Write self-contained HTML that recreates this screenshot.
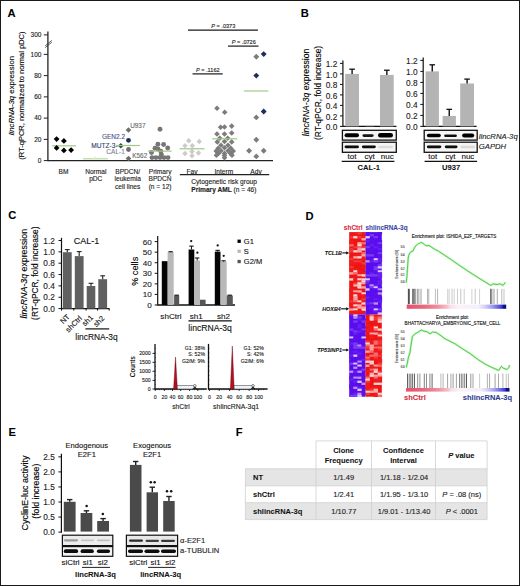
<!DOCTYPE html>
<html><head><meta charset="utf-8"><style>
html,body{margin:0;padding:0;background:#fff;}
svg{display:block;font-family:"Liberation Sans",sans-serif;}
</style></head><body>
<svg width="520" height="586" viewBox="0 0 520 586">
<defs><filter id="blur" x="-20%" y="-50%" width="140%" height="200%"><feGaussianBlur stdDeviation="0.5"/></filter></defs>
<rect width="520" height="586" fill="#fff"/>
<rect x="0.5" y="0.5" width="519" height="585" fill="none" stroke="#1a1a1a" stroke-width="1"/>
<text x="7.6" y="17.4" font-size="11.2" text-anchor="start" fill="#000" stroke="#000" stroke-width="0.06" font-weight="bold" >A</text>
<text transform="translate(14.2,95.6) rotate(-90)" font-size="7.8" text-anchor="middle" fill="#000" stroke="#000" stroke-width="0.12" ><tspan font-style="italic">lincRNA-3q</tspan> expression</text>
<text transform="translate(24.2,95.6) rotate(-90)" font-size="7.5" text-anchor="middle" fill="#000" stroke="#000" stroke-width="0.12" >(RT-qPCR, normalized to normal pDC)</text>
<line x1="47.9" y1="31.4" x2="47.9" y2="161.2" stroke="#222" stroke-width="1.3" />
<line x1="45.2" y1="45.8" x2="51.8" y2="40.4" stroke="#333" stroke-width="0.8" />
<line x1="45.2" y1="47.6" x2="51.8" y2="42.2" stroke="#333" stroke-width="0.8" />
<line x1="43.8" y1="34.9" x2="47.9" y2="34.9" stroke="#222" stroke-width="1" />
<text x="41.4" y="37.1" font-size="6.5" text-anchor="end" fill="#222" stroke="#222" stroke-width="0.12" >300</text>
<line x1="43.8" y1="54.4" x2="47.9" y2="54.4" stroke="#222" stroke-width="1" />
<text x="41.4" y="56.6" font-size="6.5" text-anchor="end" fill="#222" stroke="#222" stroke-width="0.12" >100</text>
<line x1="43.8" y1="75.64" x2="47.9" y2="75.64" stroke="#222" stroke-width="1" />
<text x="41.4" y="77.84" font-size="6.5" text-anchor="end" fill="#222" stroke="#222" stroke-width="0.12" >80</text>
<line x1="43.8" y1="96.88" x2="47.9" y2="96.88" stroke="#222" stroke-width="1" />
<text x="41.4" y="99.08" font-size="6.5" text-anchor="end" fill="#222" stroke="#222" stroke-width="0.12" >60</text>
<line x1="43.8" y1="118.12" x2="47.9" y2="118.12" stroke="#222" stroke-width="1" />
<text x="41.4" y="120.32" font-size="6.5" text-anchor="end" fill="#222" stroke="#222" stroke-width="0.12" >40</text>
<line x1="43.8" y1="139.36" x2="47.9" y2="139.36" stroke="#222" stroke-width="1" />
<text x="41.4" y="141.56" font-size="6.5" text-anchor="end" fill="#222" stroke="#222" stroke-width="0.12" >20</text>
<line x1="43.8" y1="160.6" x2="47.9" y2="160.6" stroke="#222" stroke-width="1" />
<text x="41.4" y="162.8" font-size="6.5" text-anchor="end" fill="#222" stroke="#222" stroke-width="0.12" >0</text>
<line x1="47.9" y1="160.6" x2="273" y2="160.6" stroke="#222" stroke-width="1.3" />
<line x1="52" y1="145.8" x2="76" y2="145.8" stroke="#9fca84" stroke-width="1.2" />
<polygon points="56.6,136.2 59.5,139.1 56.6,142 53.7,139.1" fill="#000"/>
<polygon points="63.9,138 66.8,140.9 63.9,143.8 61,140.9" fill="#000"/>
<polygon points="56.6,145 59.5,147.9 56.6,150.8 53.7,147.9" fill="#000"/>
<polygon points="63.9,147.5 66.8,150.4 63.9,153.3 61,150.4" fill="#000"/>
<polygon points="71.1,147.2 74,150.1 71.1,153 68.2,150.1" fill="#000"/>
<line x1="83" y1="158.8" x2="107.7" y2="158.8" stroke="#b5d99c" stroke-width="1.2" />
<polygon points="95.4,156.5 97.2,158.3 95.4,160.1 93.6,158.3" fill="#d8ecc8"/>
<polygon points="128.5,127.2 131.3,130 128.5,132.8 125.7,130" fill="#6e6e6e"/>
<circle cx="128.5" cy="140.3" r="2.4" fill="#1f2d5c" />
<polygon points="120.8,143 123.6,145.8 120.8,148.6 118,145.8" fill="#2b4a48"/>
<circle cx="128.5" cy="149.5" r="2.4" fill="#6e6e6e" />
<polygon points="128.5,155.7 131.3,158.5 128.5,161.3 125.7,158.5" fill="#6e6e6e"/>
<line x1="116" y1="145.5" x2="140" y2="145.5" stroke="#9fca84" stroke-width="1.2" />
<text x="130.2" y="127.6" font-size="6.4" text-anchor="start" fill="#6a6a6a" stroke="#6a6a6a" stroke-width="0.12" >U937</text>
<text x="125" y="139.3" font-size="6.5" text-anchor="end" fill="#46528a" stroke="#46528a" stroke-width="0.12" >GEN2.2</text>
<text x="117.6" y="147.8" font-size="6.6" text-anchor="end" fill="#36416c" stroke="#36416c" stroke-width="0.12" >MUTZ-3-</text>
<text x="124.8" y="154.1" font-size="6.5" text-anchor="end" fill="#7e8296" stroke="#7e8296" stroke-width="0.12" >CAL-1</text>
<text x="132.3" y="158.4" font-size="6.4" text-anchor="start" fill="#6a6a6a" stroke="#6a6a6a" stroke-width="0.12" >K562</text>
<circle cx="160" cy="129.2" r="2.45" fill="#767676" />
<circle cx="157.9" cy="144.2" r="2.45" fill="#767676" />
<circle cx="163.6" cy="144.5" r="2.45" fill="#767676" />
<circle cx="155" cy="148.3" r="2.45" fill="#767676" />
<circle cx="167.7" cy="148" r="2.45" fill="#767676" />
<circle cx="151.5" cy="152.5" r="2.45" fill="#767676" />
<circle cx="160.8" cy="151.2" r="2.45" fill="#767676" />
<circle cx="161.3" cy="154.5" r="2.45" fill="#767676" />
<circle cx="152" cy="157.6" r="2.45" fill="#767676" />
<circle cx="156" cy="157.6" r="2.45" fill="#767676" />
<circle cx="160" cy="157.6" r="2.45" fill="#767676" />
<circle cx="164" cy="157.6" r="2.45" fill="#767676" />
<circle cx="168" cy="157.6" r="2.45" fill="#767676" />
<circle cx="158" cy="149" r="2.45" fill="#767676" />
<line x1="148" y1="151.1" x2="171.7" y2="151.1" stroke="#9fca84" stroke-width="1.2" />
<polygon points="188.7,138.1 191.4,140.8 188.7,143.5 186,140.8" fill="#cbcbcb"/>
<polygon points="199.2,138.8 201.9,141.5 199.2,144.2 196.5,141.5" fill="#cbcbcb"/>
<polygon points="185,143.1 187.7,145.8 185,148.5 182.3,145.8" fill="#cbcbcb"/>
<polygon points="192.3,143.1 195,145.8 192.3,148.5 189.6,145.8" fill="#cbcbcb"/>
<polygon points="185,150.8 187.7,153.5 185,156.2 182.3,153.5" fill="#cbcbcb"/>
<polygon points="192,148.8 194.7,151.5 192,154.2 189.3,151.5" fill="#cbcbcb"/>
<polygon points="198.5,150.3 201.2,153 198.5,155.7 195.8,153" fill="#cbcbcb"/>
<polygon points="192,153.1 194.7,155.8 192,158.5 189.3,155.8" fill="#cbcbcb"/>
<line x1="179.6" y1="148.8" x2="204.6" y2="148.8" stroke="#9fca84" stroke-width="1.2" />
<polygon points="217,105.5 219.8,108.3 217,111.1 214.2,108.3" fill="#7c7c7c"/>
<polygon points="224.7,109.4 227.5,112.2 224.7,115 221.9,112.2" fill="#7c7c7c"/>
<polygon points="220.6,124.4 223.4,127.2 220.6,130 217.8,127.2" fill="#7c7c7c"/>
<polygon points="224.5,124.2 227.3,127 224.5,129.8 221.7,127" fill="#7c7c7c"/>
<polygon points="231.7,123.3 234.5,126.1 231.7,128.9 228.9,126.1" fill="#7c7c7c"/>
<polygon points="217,131.2 219.8,134 217,136.8 214.2,134" fill="#7c7c7c"/>
<polygon points="224.5,131.2 227.3,134 224.5,136.8 221.7,134" fill="#7c7c7c"/>
<polygon points="231.7,130.2 234.5,133 231.7,135.8 228.9,133" fill="#7c7c7c"/>
<polygon points="219.8,135.5 222.6,138.3 219.8,141.1 217,138.3" fill="#7c7c7c"/>
<polygon points="227.7,135.5 230.5,138.3 227.7,141.1 224.9,138.3" fill="#7c7c7c"/>
<polygon points="217.3,139.1 220.1,141.9 217.3,144.7 214.5,141.9" fill="#7c7c7c"/>
<polygon points="224.5,138.7 227.3,141.5 224.5,144.3 221.7,141.5" fill="#7c7c7c"/>
<polygon points="231.7,139.1 234.5,141.9 231.7,144.7 228.9,141.9" fill="#7c7c7c"/>
<polygon points="221,142.4 223.8,145.2 221,148 218.2,145.2" fill="#7c7c7c"/>
<polygon points="228,142.4 230.8,145.2 228,148 225.2,145.2" fill="#7c7c7c"/>
<polygon points="218.2,145.4 221,148.2 218.2,151 215.4,148.2" fill="#7c7c7c"/>
<polygon points="224.5,145 227.3,147.8 224.5,150.6 221.7,147.8" fill="#7c7c7c"/>
<polygon points="230.8,145.4 233.6,148.2 230.8,151 228,148.2" fill="#7c7c7c"/>
<polygon points="216.2,148.3 219,151.1 216.2,153.9 213.4,151.1" fill="#7c7c7c"/>
<polygon points="221,148 223.8,150.8 221,153.6 218.2,150.8" fill="#7c7c7c"/>
<polygon points="228,148 230.8,150.8 228,153.6 225.2,150.8" fill="#7c7c7c"/>
<polygon points="233.2,148.3 236,151.1 233.2,153.9 230.4,151.1" fill="#7c7c7c"/>
<polygon points="218.5,150.6 221.3,153.4 218.5,156.2 215.7,153.4" fill="#7c7c7c"/>
<polygon points="224.5,150.6 227.3,153.4 224.5,156.2 221.7,153.4" fill="#7c7c7c"/>
<polygon points="230.5,150.6 233.3,153.4 230.5,156.2 227.7,153.4" fill="#7c7c7c"/>
<polygon points="216.4,152.4 219.2,155.2 216.4,158 213.6,155.2" fill="#7c7c7c"/>
<polygon points="224.5,152.6 227.3,155.4 224.5,158.2 221.7,155.4" fill="#7c7c7c"/>
<polygon points="232,152.4 234.8,155.2 232,158 229.2,155.2" fill="#7c7c7c"/>
<polygon points="224.5,155 227.3,157.8 224.5,160.6 221.7,157.8" fill="#7c7c7c"/>
<line x1="212.2" y1="138.8" x2="237.2" y2="138.8" stroke="#9fca84" stroke-width="1.2" />
<polygon points="256.3,53.75 259.25,56.7 256.3,59.65 253.35,56.7" fill="#7c7c7c"/>
<polygon points="263.7,51.15 266.65,54.1 263.7,57.05 260.75,54.1" fill="#1f2d5c"/>
<polygon points="256.3,72.65 259.25,75.6 256.3,78.55 253.35,75.6" fill="#1f2d5c"/>
<polygon points="263.7,108.55 266.65,111.5 263.7,114.45 260.75,111.5" fill="#1f2d5c"/>
<polygon points="256.3,114.45 259.25,117.4 256.3,120.35 253.35,117.4" fill="#7c7c7c"/>
<polygon points="256.3,136.75 259.25,139.7 256.3,142.65 253.35,139.7" fill="#7c7c7c"/>
<polygon points="249.1,147.85 252.05,150.8 249.1,153.75 246.15,150.8" fill="#7c7c7c"/>
<polygon points="263.7,147.85 266.65,150.8 263.7,153.75 260.75,150.8" fill="#7c7c7c"/>
<polygon points="256.3,153.45 259.25,156.4 256.3,159.35 253.35,156.4" fill="#7c7c7c"/>
<line x1="244" y1="91" x2="268.3" y2="91" stroke="#9fca84" stroke-width="1.2" />
<line x1="188" y1="30.2" x2="257.9" y2="30.2" stroke="#1a1a1a" stroke-width="1.2" />
<text x="223.3" y="28.1" font-size="5.6" text-anchor="middle" fill="#222" stroke="#222" stroke-width="0.12" ><tspan font-style="italic">P</tspan> = .0373</text>
<line x1="228" y1="46.1" x2="258.5" y2="46.1" stroke="#1a1a1a" stroke-width="1.2" />
<text x="243.8" y="44" font-size="5.6" text-anchor="middle" fill="#222" stroke="#222" stroke-width="0.12" ><tspan font-style="italic">P</tspan> = .0726</text>
<line x1="192.5" y1="73.9" x2="222.7" y2="73.9" stroke="#1a1a1a" stroke-width="1.2" />
<text x="207.8" y="72" font-size="5.6" text-anchor="middle" fill="#222" stroke="#222" stroke-width="0.12" ><tspan font-style="italic">P</tspan> = .1162</text>
<text x="63.5" y="173.8" font-size="6.6" text-anchor="middle" fill="#222" stroke="#222" stroke-width="0.12" >BM</text>
<text x="95.8" y="173.8" font-size="6.6" text-anchor="middle" fill="#222" stroke="#222" stroke-width="0.12" >Normal</text>
<text x="95.8" y="181.4" font-size="6.6" text-anchor="middle" fill="#222" stroke="#222" stroke-width="0.12" >pDC</text>
<text x="127.7" y="173.8" font-size="6.6" text-anchor="middle" fill="#222" stroke="#222" stroke-width="0.12" >BPDCN/</text>
<text x="127.7" y="181.4" font-size="6.6" text-anchor="middle" fill="#222" stroke="#222" stroke-width="0.12" >leukemia</text>
<text x="127.7" y="189" font-size="6.6" text-anchor="middle" fill="#222" stroke="#222" stroke-width="0.12" >cell lines</text>
<text x="160.1" y="173.8" font-size="6.6" text-anchor="middle" fill="#222" stroke="#222" stroke-width="0.12" >Primary</text>
<text x="160.1" y="181.4" font-size="6.6" text-anchor="middle" fill="#222" stroke="#222" stroke-width="0.12" >BPDCN</text>
<text x="160.1" y="189" font-size="6.6" text-anchor="middle" fill="#222" stroke="#222" stroke-width="0.12" >(n = 12)</text>
<text x="192" y="173.5" font-size="6.6" text-anchor="middle" fill="#222" stroke="#222" stroke-width="0.12" >Fav</text>
<text x="223.8" y="173.5" font-size="6.6" text-anchor="middle" fill="#222" stroke="#222" stroke-width="0.12" >Interm</text>
<text x="256" y="173.5" font-size="6.6" text-anchor="middle" fill="#222" stroke="#222" stroke-width="0.12" >Adv</text>
<line x1="179.8" y1="174.6" x2="269.2" y2="174.6" stroke="#222" stroke-width="1.2" />
<text x="191.3" y="184" font-size="6.6" text-anchor="start" fill="#222" stroke="#222" stroke-width="0.12" >Cytogenetic risk group</text>
<text x="191.3" y="191.7" font-size="6.6" text-anchor="start" fill="#222" stroke="#222" stroke-width="0.12" ><tspan font-weight="bold">Primary AML</tspan> (n = 46)</text>
<text x="300.8" y="17.2" font-size="11.2" text-anchor="start" fill="#000" stroke="#000" stroke-width="0.06" font-weight="bold" >B</text>
<text transform="translate(309.4,92.5) rotate(-90)" font-size="8.6" text-anchor="middle" fill="#000" stroke="#000" stroke-width="0.12" ><tspan font-style="italic">lincRNA-3q</tspan> expression</text>
<text transform="translate(320.8,92.9) rotate(-90)" font-size="8.45" text-anchor="middle" fill="#000" stroke="#000" stroke-width="0.12" >(RT-qPCR, fold increase)</text>
<line x1="342.9" y1="60.4" x2="342.9" y2="127" stroke="#111" stroke-width="1.2" />
<line x1="340" y1="126.4" x2="342.9" y2="126.4" stroke="#111" stroke-width="1" />
<text x="337.3" y="130" font-size="8.3" text-anchor="end" fill="#222" stroke="#222" stroke-width="0.12" >0.0</text>
<line x1="340" y1="115.9" x2="342.9" y2="115.9" stroke="#111" stroke-width="1" />
<text x="337.3" y="119.5" font-size="8.3" text-anchor="end" fill="#222" stroke="#222" stroke-width="0.12" >0.2</text>
<line x1="340" y1="105.4" x2="342.9" y2="105.4" stroke="#111" stroke-width="1" />
<text x="337.3" y="109" font-size="8.3" text-anchor="end" fill="#222" stroke="#222" stroke-width="0.12" >0.4</text>
<line x1="340" y1="94.9" x2="342.9" y2="94.9" stroke="#111" stroke-width="1" />
<text x="337.3" y="98.5" font-size="8.3" text-anchor="end" fill="#222" stroke="#222" stroke-width="0.12" >0.6</text>
<line x1="340" y1="84.4" x2="342.9" y2="84.4" stroke="#111" stroke-width="1" />
<text x="337.3" y="88" font-size="8.3" text-anchor="end" fill="#222" stroke="#222" stroke-width="0.12" >0.8</text>
<line x1="340" y1="73.9" x2="342.9" y2="73.9" stroke="#111" stroke-width="1" />
<text x="337.3" y="77.5" font-size="8.3" text-anchor="end" fill="#222" stroke="#222" stroke-width="0.12" >1.0</text>
<line x1="340" y1="63.4" x2="342.9" y2="63.4" stroke="#111" stroke-width="1" />
<text x="337.3" y="67" font-size="8.3" text-anchor="end" fill="#222" stroke="#222" stroke-width="0.12" >1.2</text>
<line x1="342.9" y1="126.4" x2="396.4" y2="126.4" stroke="#111" stroke-width="1.3" />
<rect x="345.2" y="73.9" width="13.8" height="52.5" fill="#b4b4b4" />
<line x1="352.1" y1="73.9" x2="352.1" y2="69.18" stroke="#111" stroke-width="1.4" />
<line x1="349.3" y1="69.18" x2="354.9" y2="69.18" stroke="#111" stroke-width="1.3" />
<rect x="365.7" y="126.14" width="8.2" height="0.26" fill="#b4b4b4" />
<rect x="380" y="74.95" width="13.7" height="51.45" fill="#b4b4b4" />
<line x1="386.85" y1="74.95" x2="386.85" y2="70.23" stroke="#111" stroke-width="1.4" />
<line x1="384.05" y1="70.23" x2="389.65" y2="70.23" stroke="#111" stroke-width="1.3" />
<line x1="423.2" y1="57.4" x2="423.2" y2="127" stroke="#111" stroke-width="1.2" />
<line x1="420.3" y1="126.4" x2="423.2" y2="126.4" stroke="#111" stroke-width="1" />
<text x="417.6" y="130" font-size="8.3" text-anchor="end" fill="#222" stroke="#222" stroke-width="0.12" >0.0</text>
<line x1="420.3" y1="115.4" x2="423.2" y2="115.4" stroke="#111" stroke-width="1" />
<text x="417.6" y="119" font-size="8.3" text-anchor="end" fill="#222" stroke="#222" stroke-width="0.12" >0.2</text>
<line x1="420.3" y1="104.4" x2="423.2" y2="104.4" stroke="#111" stroke-width="1" />
<text x="417.6" y="108" font-size="8.3" text-anchor="end" fill="#222" stroke="#222" stroke-width="0.12" >0.4</text>
<line x1="420.3" y1="93.4" x2="423.2" y2="93.4" stroke="#111" stroke-width="1" />
<text x="417.6" y="97" font-size="8.3" text-anchor="end" fill="#222" stroke="#222" stroke-width="0.12" >0.6</text>
<line x1="420.3" y1="82.4" x2="423.2" y2="82.4" stroke="#111" stroke-width="1" />
<text x="417.6" y="86" font-size="8.3" text-anchor="end" fill="#222" stroke="#222" stroke-width="0.12" >0.8</text>
<line x1="420.3" y1="71.4" x2="423.2" y2="71.4" stroke="#111" stroke-width="1" />
<text x="417.6" y="75" font-size="8.3" text-anchor="end" fill="#222" stroke="#222" stroke-width="0.12" >1.0</text>
<line x1="420.3" y1="60.4" x2="423.2" y2="60.4" stroke="#111" stroke-width="1" />
<text x="417.6" y="64" font-size="8.3" text-anchor="end" fill="#222" stroke="#222" stroke-width="0.12" >1.2</text>
<line x1="423.2" y1="126.4" x2="476.6" y2="126.4" stroke="#111" stroke-width="1.3" />
<rect x="425.6" y="71.4" width="13.3" height="55" fill="#b4b4b4" />
<line x1="432.25" y1="71.4" x2="432.25" y2="64.8" stroke="#111" stroke-width="1.4" />
<line x1="429.45" y1="64.8" x2="435.05" y2="64.8" stroke="#111" stroke-width="1.3" />
<rect x="442.6" y="115.95" width="13.3" height="10.45" fill="#b4b4b4" />
<line x1="449.25" y1="115.95" x2="449.25" y2="109.35" stroke="#111" stroke-width="1.4" />
<line x1="446.45" y1="109.35" x2="452.05" y2="109.35" stroke="#111" stroke-width="1.3" />
<rect x="460.2" y="83.5" width="13.8" height="42.9" fill="#b4b4b4" />
<line x1="467.1" y1="83.5" x2="467.1" y2="79.1" stroke="#111" stroke-width="1.4" />
<line x1="464.3" y1="79.1" x2="469.9" y2="79.1" stroke="#111" stroke-width="1.3" />
<rect x="342.4" y="130.3" width="53.9" height="9.8" fill="#f5f5f5" stroke="#111" stroke-width="1.3"/>
<rect x="344.6" y="133.25" width="14.4" height="3.9" rx="1.95" fill="#050505" filter="url(#blur)"/>
<rect x="362.5" y="134.2" width="11.1" height="2.8" rx="1.4" fill="#151515" filter="url(#blur)"/>
<rect x="378" y="133" width="15" height="4.6" rx="2.3" fill="#050505" filter="url(#blur)"/>
<rect x="342.4" y="142.2" width="53.9" height="10.1" fill="#f5f5f5" stroke="#111" stroke-width="1.3"/>
<rect x="344.6" y="145.4" width="14.4" height="2.8" rx="1.4" fill="#080808" filter="url(#blur)"/>
<rect x="361.9" y="145.4" width="13.9" height="2.8" rx="1.4" fill="#080808" filter="url(#blur)"/>
<rect x="378" y="145.7" width="15" height="2.6" rx="1.3" fill="#dcdcdc" filter="url(#blur)"/>
<rect x="424.2" y="130.3" width="53" height="9.8" fill="#f5f5f5" stroke="#111" stroke-width="1.3"/>
<rect x="426.9" y="133.65" width="13.9" height="3.5" rx="1.75" fill="#050505" filter="url(#blur)"/>
<rect x="444.2" y="134.4" width="12.7" height="2.6" rx="1.3" fill="#101010" filter="url(#blur)"/>
<rect x="462.1" y="133.5" width="12.1" height="4" rx="2" fill="#050505" filter="url(#blur)"/>
<rect x="424.2" y="142.2" width="53" height="10.1" fill="#f5f5f5" stroke="#111" stroke-width="1.3"/>
<rect x="426.9" y="145.45" width="14.4" height="2.7" rx="1.35" fill="#080808" filter="url(#blur)"/>
<rect x="444.8" y="145.45" width="12.7" height="2.7" rx="1.35" fill="#080808" filter="url(#blur)"/>
<rect x="460.5" y="145.7" width="14.5" height="2.6" rx="1.3" fill="#dadada" filter="url(#blur)"/>
<text x="352" y="158.9" font-size="8" text-anchor="middle" fill="#111" stroke="#111" stroke-width="0.12" >tot</text>
<text x="369.7" y="158.9" font-size="8" text-anchor="middle" fill="#111" stroke="#111" stroke-width="0.12" >cyt</text>
<text x="387.3" y="158.9" font-size="8" text-anchor="middle" fill="#111" stroke="#111" stroke-width="0.12" >nuc</text>
<text x="432.7" y="158.9" font-size="8" text-anchor="middle" fill="#111" stroke="#111" stroke-width="0.12" >tot</text>
<text x="450.3" y="158.9" font-size="8" text-anchor="middle" fill="#111" stroke="#111" stroke-width="0.12" >cyt</text>
<text x="467.9" y="158.9" font-size="8" text-anchor="middle" fill="#111" stroke="#111" stroke-width="0.12" >nuc</text>
<line x1="341.7" y1="161.4" x2="394.4" y2="161.4" stroke="#111" stroke-width="1.2" />
<line x1="424.6" y1="161.4" x2="477.1" y2="161.4" stroke="#111" stroke-width="1.2" />
<text x="368.8" y="170.4" font-size="7.6" text-anchor="middle" fill="#111" stroke="#111" stroke-width="0.06" font-weight="bold" >CAL-1</text>
<text x="451.2" y="170.4" font-size="7.6" text-anchor="middle" fill="#111" stroke="#111" stroke-width="0.06" font-weight="bold" >U937</text>
<text x="478.8" y="138.5" font-size="7.7" text-anchor="start" fill="#222" stroke="#222" stroke-width="0.12" font-style="italic" >lincRNA-3q</text>
<text x="478.8" y="148.8" font-size="7.7" text-anchor="start" fill="#222" stroke="#222" stroke-width="0.12" font-style="italic" >GAPDH</text>
<text x="8.3" y="219.4" font-size="11.2" text-anchor="start" fill="#000" stroke="#000" stroke-width="0.06" font-weight="bold" >C</text>
<text transform="translate(26.9,273.7) rotate(-90)" font-size="8.8" text-anchor="middle" fill="#000" stroke="#000" stroke-width="0.12" ><tspan font-style="italic">lincRNA-3q</tspan> expression</text>
<text transform="translate(37.9,273.2) rotate(-90)" font-size="8.4" text-anchor="middle" fill="#000" stroke="#000" stroke-width="0.12" >(RT-qPCR, fold increase)</text>
<line x1="61.5" y1="237.8" x2="61.5" y2="309.2" stroke="#111" stroke-width="1.2" />
<line x1="58.5" y1="308.6" x2="61.5" y2="308.6" stroke="#111" stroke-width="1" />
<text x="54.9" y="311.7" font-size="8.3" text-anchor="end" fill="#222" stroke="#222" stroke-width="0.12" >0.0</text>
<line x1="58.5" y1="297.25" x2="61.5" y2="297.25" stroke="#111" stroke-width="1" />
<text x="54.9" y="300.35" font-size="8.3" text-anchor="end" fill="#222" stroke="#222" stroke-width="0.12" >0.2</text>
<line x1="58.5" y1="285.9" x2="61.5" y2="285.9" stroke="#111" stroke-width="1" />
<text x="54.9" y="289" font-size="8.3" text-anchor="end" fill="#222" stroke="#222" stroke-width="0.12" >0.4</text>
<line x1="58.5" y1="274.55" x2="61.5" y2="274.55" stroke="#111" stroke-width="1" />
<text x="54.9" y="277.65" font-size="8.3" text-anchor="end" fill="#222" stroke="#222" stroke-width="0.12" >0.6</text>
<line x1="58.5" y1="263.2" x2="61.5" y2="263.2" stroke="#111" stroke-width="1" />
<text x="54.9" y="266.3" font-size="8.3" text-anchor="end" fill="#222" stroke="#222" stroke-width="0.12" >0.8</text>
<line x1="58.5" y1="251.85" x2="61.5" y2="251.85" stroke="#111" stroke-width="1" />
<text x="54.9" y="254.95" font-size="8.3" text-anchor="end" fill="#222" stroke="#222" stroke-width="0.12" >1.0</text>
<line x1="58.5" y1="240.5" x2="61.5" y2="240.5" stroke="#111" stroke-width="1" />
<text x="54.9" y="243.6" font-size="8.3" text-anchor="end" fill="#222" stroke="#222" stroke-width="0.12" >1.2</text>
<line x1="61.5" y1="308.6" x2="109.5" y2="308.6" stroke="#111" stroke-width="1.3" />
<line x1="61.5" y1="308.6" x2="61.5" y2="310.6" stroke="#111" stroke-width="1" />
<line x1="73.8" y1="308.6" x2="73.8" y2="310.6" stroke="#111" stroke-width="1" />
<line x1="86.1" y1="308.6" x2="86.1" y2="310.6" stroke="#111" stroke-width="1" />
<line x1="97.6" y1="308.6" x2="97.6" y2="310.6" stroke="#111" stroke-width="1" />
<line x1="109.2" y1="308.6" x2="109.2" y2="310.6" stroke="#111" stroke-width="1" />
<rect x="62.9" y="252.2" width="8.8" height="56.4" fill="#606060" />
<line x1="67.3" y1="252.2" x2="67.3" y2="249.6" stroke="#222" stroke-width="1.1" />
<line x1="64.9" y1="249.6" x2="69.7" y2="249.6" stroke="#222" stroke-width="1.1" />
<rect x="74.8" y="256.1" width="8.8" height="52.5" fill="#606060" />
<line x1="79.2" y1="256.1" x2="79.2" y2="251.6" stroke="#222" stroke-width="1.1" />
<line x1="76.8" y1="251.6" x2="81.6" y2="251.6" stroke="#222" stroke-width="1.1" />
<rect x="86.7" y="286" width="8.6" height="22.6" fill="#606060" />
<line x1="91" y1="286" x2="91" y2="283.3" stroke="#222" stroke-width="1.1" />
<line x1="88.6" y1="283.3" x2="93.4" y2="283.3" stroke="#222" stroke-width="1.1" />
<rect x="98.3" y="279.2" width="8.8" height="29.4" fill="#606060" />
<line x1="102.7" y1="279.2" x2="102.7" y2="275.8" stroke="#222" stroke-width="1.1" />
<line x1="100.3" y1="275.8" x2="105.1" y2="275.8" stroke="#222" stroke-width="1.1" />
<text x="86.6" y="244.2" font-size="9" text-anchor="middle" fill="#111" stroke="#111" stroke-width="0.12" >CAL-1</text>
<text transform="translate(70.2,317.2) rotate(-45)" font-size="7.5" text-anchor="end" fill="#111" stroke="#111" stroke-width="0.12">NT</text>
<text transform="translate(82.4,318.8) rotate(-45)" font-size="7.5" text-anchor="end" fill="#111" stroke="#111" stroke-width="0.12">shCtrl</text>
<text transform="translate(93.6,318.0) rotate(-45)" font-size="7.5" text-anchor="end" fill="#111" stroke="#111" stroke-width="0.12">sh1</text>
<text transform="translate(105.0,318.8) rotate(-45)" font-size="7.5" text-anchor="end" fill="#111" stroke="#111" stroke-width="0.12">sh2</text>
<line x1="85.4" y1="328.9" x2="109.2" y2="328.9" stroke="#111" stroke-width="1.2" />
<text x="96.5" y="339.7" font-size="8.4" text-anchor="middle" fill="#111" stroke="#111" stroke-width="0.12" >lincRNA-3q</text>
<text transform="translate(137.5,271.3) rotate(-90)" font-size="9.2" text-anchor="middle" fill="#000" stroke="#000" stroke-width="0.12" >% cells</text>
<line x1="157.7" y1="236.1" x2="157.7" y2="305.6" stroke="#111" stroke-width="1.2" />
<line x1="154.7" y1="305" x2="157.7" y2="305" stroke="#111" stroke-width="1" />
<text x="151.8" y="308" font-size="8.1" text-anchor="end" fill="#222" stroke="#222" stroke-width="0.12" >0</text>
<line x1="154.7" y1="294.43" x2="157.7" y2="294.43" stroke="#111" stroke-width="1" />
<text x="151.8" y="297.43" font-size="8.1" text-anchor="end" fill="#222" stroke="#222" stroke-width="0.12" >10</text>
<line x1="154.7" y1="283.87" x2="157.7" y2="283.87" stroke="#111" stroke-width="1" />
<text x="151.8" y="286.87" font-size="8.1" text-anchor="end" fill="#222" stroke="#222" stroke-width="0.12" >20</text>
<line x1="154.7" y1="273.3" x2="157.7" y2="273.3" stroke="#111" stroke-width="1" />
<text x="151.8" y="276.3" font-size="8.1" text-anchor="end" fill="#222" stroke="#222" stroke-width="0.12" >30</text>
<line x1="154.7" y1="262.73" x2="157.7" y2="262.73" stroke="#111" stroke-width="1" />
<text x="151.8" y="265.73" font-size="8.1" text-anchor="end" fill="#222" stroke="#222" stroke-width="0.12" >40</text>
<line x1="154.7" y1="252.16" x2="157.7" y2="252.16" stroke="#111" stroke-width="1" />
<text x="151.8" y="255.16" font-size="8.1" text-anchor="end" fill="#222" stroke="#222" stroke-width="0.12" >50</text>
<line x1="154.7" y1="241.6" x2="157.7" y2="241.6" stroke="#111" stroke-width="1" />
<text x="151.8" y="244.6" font-size="8.1" text-anchor="end" fill="#222" stroke="#222" stroke-width="0.12" >60</text>
<line x1="157.7" y1="305" x2="235" y2="305" stroke="#111" stroke-width="1.3" />
<rect x="161.8" y="261.15" width="5.9" height="43.85" fill="#050505" />
<rect x="167.6" y="252.16" width="6.1" height="52.84" fill="#b9b9b9" />
<line x1="170.65" y1="252.16" x2="170.65" y2="251.74" stroke="#111" stroke-width="1" />
<line x1="168.45" y1="251.74" x2="172.85" y2="251.74" stroke="#111" stroke-width="1.1" />
<rect x="174.1" y="295.49" width="5.1" height="9.51" fill="#575757" />
<line x1="176.65" y1="295.49" x2="176.65" y2="295.17" stroke="#111" stroke-width="1" />
<line x1="174.45" y1="295.17" x2="178.85" y2="295.17" stroke="#111" stroke-width="1.1" />
<rect x="188.6" y="249.52" width="5.7" height="55.48" fill="#050505" />
<line x1="191.45" y1="249.52" x2="191.45" y2="246.14" stroke="#111" stroke-width="1" />
<line x1="189.25" y1="246.14" x2="193.65" y2="246.14" stroke="#111" stroke-width="1.1" />
<rect x="194.3" y="260.62" width="5.7" height="44.38" fill="#b9b9b9" />
<line x1="197.15" y1="260.62" x2="197.15" y2="257.98" stroke="#111" stroke-width="1" />
<line x1="194.95" y1="257.98" x2="199.35" y2="257.98" stroke="#111" stroke-width="1.1" />
<rect x="200" y="299.72" width="5.6" height="5.28" fill="#575757" />
<rect x="214.8" y="251.64" width="5.7" height="53.36" fill="#050505" />
<line x1="217.65" y1="251.64" x2="217.65" y2="250.37" stroke="#111" stroke-width="1" />
<line x1="215.45" y1="250.37" x2="219.85" y2="250.37" stroke="#111" stroke-width="1.1" />
<rect x="220.5" y="261.68" width="6.2" height="43.32" fill="#b9b9b9" />
<line x1="223.6" y1="261.68" x2="223.6" y2="260.83" stroke="#111" stroke-width="1" />
<line x1="221.4" y1="260.83" x2="225.8" y2="260.83" stroke="#111" stroke-width="1.1" />
<rect x="226.7" y="295.49" width="6.1" height="9.51" fill="#575757" />
<line x1="229.75" y1="295.49" x2="229.75" y2="295.17" stroke="#111" stroke-width="1" />
<line x1="227.55" y1="295.17" x2="231.95" y2="295.17" stroke="#111" stroke-width="1.1" />
<circle cx="191.2" cy="241.1" r="1.15" fill="#111" />
<circle cx="197.4" cy="252.7" r="1.15" fill="#111" />
<circle cx="217.7" cy="245.4" r="1.15" fill="#111" />
<circle cx="223.7" cy="255.8" r="1.15" fill="#111" />
<text x="170.9" y="318.8" font-size="8.1" text-anchor="middle" fill="#111" stroke="#111" stroke-width="0.12" >shCtrl</text>
<text x="196.2" y="318.8" font-size="8.1" text-anchor="middle" fill="#111" stroke="#111" stroke-width="0.12" >sh1</text>
<text x="223.6" y="318.8" font-size="8.1" text-anchor="middle" fill="#111" stroke="#111" stroke-width="0.12" >sh2</text>
<line x1="188.5" y1="320.8" x2="231.8" y2="320.8" stroke="#111" stroke-width="1.2" />
<text x="210.1" y="331" font-size="8.6" text-anchor="middle" fill="#111" stroke="#111" stroke-width="0.12" >lincRNA-3q</text>
<rect x="237.5" y="239.6" width="3.3" height="3.3" fill="#000" />
<text x="243.8" y="243.8" font-size="7.5" text-anchor="start" fill="#111" stroke="#111" stroke-width="0.12" >G1</text>
<rect x="237.5" y="249.6" width="3.3" height="3.3" fill="#b9b9b9" />
<text x="243.8" y="253.8" font-size="7.5" text-anchor="start" fill="#111" stroke="#111" stroke-width="0.12" >S</text>
<rect x="237.5" y="259.9" width="3.3" height="3.3" fill="#555" />
<text x="243.8" y="264.1" font-size="7.5" text-anchor="start" fill="#111" stroke="#111" stroke-width="0.12" >G2/M</text>
<line x1="155" y1="343.9" x2="155" y2="389.6" stroke="#111" stroke-width="1.3" />
<line x1="152.5" y1="353.4" x2="155" y2="353.4" stroke="#111" stroke-width="0.9" />
<text x="150.7" y="355.3" font-size="5.2" text-anchor="end" fill="#222" stroke="#222" stroke-width="0.12" >2000</text>
<line x1="152.5" y1="362.3" x2="155" y2="362.3" stroke="#111" stroke-width="0.9" />
<text x="150.7" y="364.2" font-size="5.2" text-anchor="end" fill="#222" stroke="#222" stroke-width="0.12" >1500</text>
<line x1="152.5" y1="371.3" x2="155" y2="371.3" stroke="#111" stroke-width="0.9" />
<text x="150.7" y="373.2" font-size="5.2" text-anchor="end" fill="#222" stroke="#222" stroke-width="0.12" >1000</text>
<line x1="152.5" y1="380.4" x2="155" y2="380.4" stroke="#111" stroke-width="0.9" />
<text x="150.7" y="382.3" font-size="5.2" text-anchor="end" fill="#222" stroke="#222" stroke-width="0.12" >500</text>
<line x1="152.5" y1="389" x2="155" y2="389" stroke="#111" stroke-width="0.9" />
<text x="150.7" y="390.9" font-size="5.2" text-anchor="end" fill="#222" stroke="#222" stroke-width="0.12" >0</text>
<line x1="155" y1="384.5" x2="156" y2="384.5" stroke="#111" stroke-width="0.5" />
<line x1="155" y1="380" x2="156" y2="380" stroke="#111" stroke-width="0.5" />
<line x1="155" y1="375.5" x2="156" y2="375.5" stroke="#111" stroke-width="0.5" />
<line x1="155" y1="371" x2="156" y2="371" stroke="#111" stroke-width="0.5" />
<line x1="155" y1="366.5" x2="156" y2="366.5" stroke="#111" stroke-width="0.5" />
<line x1="155" y1="362" x2="156" y2="362" stroke="#111" stroke-width="0.5" />
<line x1="155" y1="357.5" x2="156" y2="357.5" stroke="#111" stroke-width="0.5" />
<line x1="155" y1="353" x2="156" y2="353" stroke="#111" stroke-width="0.5" />
<line x1="155" y1="348.5" x2="156" y2="348.5" stroke="#111" stroke-width="0.5" />
<line x1="155" y1="389" x2="206.8" y2="389" stroke="#111" stroke-width="1.3" />
<line x1="155.3" y1="389" x2="155.3" y2="391" stroke="#111" stroke-width="0.8" />
<text x="155.3" y="399" font-size="5.2" text-anchor="middle" fill="#222" stroke="#222" stroke-width="0.12" >0</text>
<line x1="164.4" y1="389" x2="164.4" y2="391" stroke="#111" stroke-width="0.8" />
<text x="164.4" y="399" font-size="5.2" text-anchor="middle" fill="#222" stroke="#222" stroke-width="0.12" >20</text>
<line x1="172.5" y1="389" x2="172.5" y2="391" stroke="#111" stroke-width="0.8" />
<text x="172.5" y="399" font-size="5.2" text-anchor="middle" fill="#222" stroke="#222" stroke-width="0.12" >40</text>
<line x1="180.6" y1="389" x2="180.6" y2="391" stroke="#111" stroke-width="0.8" />
<text x="180.6" y="399" font-size="5.2" text-anchor="middle" fill="#222" stroke="#222" stroke-width="0.12" >60</text>
<line x1="189.5" y1="389" x2="189.5" y2="391" stroke="#111" stroke-width="0.8" />
<text x="189.5" y="399" font-size="5.2" text-anchor="middle" fill="#222" stroke="#222" stroke-width="0.12" >80</text>
<line x1="197.8" y1="389" x2="197.8" y2="391" stroke="#111" stroke-width="0.8" />
<text x="197.8" y="399" font-size="5.2" text-anchor="middle" fill="#222" stroke="#222" stroke-width="0.12" >100</text>
<line x1="155" y1="389" x2="155" y2="390.2" stroke="#111" stroke-width="0.5" />
<line x1="157.2" y1="389" x2="157.2" y2="390.2" stroke="#111" stroke-width="0.5" />
<line x1="159.4" y1="389" x2="159.4" y2="390.2" stroke="#111" stroke-width="0.5" />
<line x1="161.6" y1="389" x2="161.6" y2="390.2" stroke="#111" stroke-width="0.5" />
<line x1="163.8" y1="389" x2="163.8" y2="390.2" stroke="#111" stroke-width="0.5" />
<line x1="166" y1="389" x2="166" y2="390.2" stroke="#111" stroke-width="0.5" />
<line x1="168.2" y1="389" x2="168.2" y2="390.2" stroke="#111" stroke-width="0.5" />
<line x1="170.4" y1="389" x2="170.4" y2="390.2" stroke="#111" stroke-width="0.5" />
<line x1="172.6" y1="389" x2="172.6" y2="390.2" stroke="#111" stroke-width="0.5" />
<line x1="174.8" y1="389" x2="174.8" y2="390.2" stroke="#111" stroke-width="0.5" />
<line x1="177" y1="389" x2="177" y2="390.2" stroke="#111" stroke-width="0.5" />
<line x1="179.2" y1="389" x2="179.2" y2="390.2" stroke="#111" stroke-width="0.5" />
<line x1="181.4" y1="389" x2="181.4" y2="390.2" stroke="#111" stroke-width="0.5" />
<line x1="183.6" y1="389" x2="183.6" y2="390.2" stroke="#111" stroke-width="0.5" />
<line x1="185.8" y1="389" x2="185.8" y2="390.2" stroke="#111" stroke-width="0.5" />
<line x1="188" y1="389" x2="188" y2="390.2" stroke="#111" stroke-width="0.5" />
<line x1="190.2" y1="389" x2="190.2" y2="390.2" stroke="#111" stroke-width="0.5" />
<line x1="192.4" y1="389" x2="192.4" y2="390.2" stroke="#111" stroke-width="0.5" />
<line x1="194.6" y1="389" x2="194.6" y2="390.2" stroke="#111" stroke-width="0.5" />
<line x1="196.8" y1="389" x2="196.8" y2="390.2" stroke="#111" stroke-width="0.5" />
<line x1="199" y1="389" x2="199" y2="390.2" stroke="#111" stroke-width="0.5" />
<line x1="201.2" y1="389" x2="201.2" y2="390.2" stroke="#111" stroke-width="0.5" />
<line x1="203.4" y1="389" x2="203.4" y2="390.2" stroke="#111" stroke-width="0.5" />
<rect x="176.7" y="385.6" width="18.1" height="3.4" fill="#eef2fa" stroke="#555" stroke-width="0.6"/>
<circle cx="194.8" cy="385.8" r="1.3" fill="#fff" stroke="#333" stroke-width="0.6"/>
<polygon points="192.3,389 194.8,386.4 197.3,389" fill="#222"/>
<polygon points="173.6,389 175.5,357 177.4,389" fill="#b4101e" stroke="#5a0010" stroke-width="0.4"/>
<text x="205" y="349.9" font-size="5.2" text-anchor="end" fill="#222" stroke="#222" stroke-width="0.12" >G1: 38%</text>
<text x="205" y="356.3" font-size="5.2" text-anchor="end" fill="#222" stroke="#222" stroke-width="0.12" >S: 52%</text>
<text x="205" y="362.7" font-size="5.2" text-anchor="end" fill="#222" stroke="#222" stroke-width="0.12" >G2/M: 9%</text>
<line x1="208.5" y1="343.9" x2="208.5" y2="389.6" stroke="#111" stroke-width="1.3" />
<line x1="208.5" y1="384.5" x2="209.5" y2="384.5" stroke="#111" stroke-width="0.5" />
<line x1="208.5" y1="380" x2="209.5" y2="380" stroke="#111" stroke-width="0.5" />
<line x1="208.5" y1="375.5" x2="209.5" y2="375.5" stroke="#111" stroke-width="0.5" />
<line x1="208.5" y1="371" x2="209.5" y2="371" stroke="#111" stroke-width="0.5" />
<line x1="208.5" y1="366.5" x2="209.5" y2="366.5" stroke="#111" stroke-width="0.5" />
<line x1="208.5" y1="362" x2="209.5" y2="362" stroke="#111" stroke-width="0.5" />
<line x1="208.5" y1="357.5" x2="209.5" y2="357.5" stroke="#111" stroke-width="0.5" />
<line x1="208.5" y1="353" x2="209.5" y2="353" stroke="#111" stroke-width="0.5" />
<line x1="208.5" y1="348.5" x2="209.5" y2="348.5" stroke="#111" stroke-width="0.5" />
<line x1="208.5" y1="389" x2="267.6" y2="389" stroke="#111" stroke-width="1.3" />
<line x1="209.5" y1="389" x2="209.5" y2="391" stroke="#111" stroke-width="0.8" />
<text x="209.5" y="399" font-size="5.2" text-anchor="middle" fill="#222" stroke="#222" stroke-width="0.12" >0</text>
<line x1="219.2" y1="389" x2="219.2" y2="391" stroke="#111" stroke-width="0.8" />
<text x="219.2" y="399" font-size="5.2" text-anchor="middle" fill="#222" stroke="#222" stroke-width="0.12" >20</text>
<line x1="229.6" y1="389" x2="229.6" y2="391" stroke="#111" stroke-width="0.8" />
<text x="229.6" y="399" font-size="5.2" text-anchor="middle" fill="#222" stroke="#222" stroke-width="0.12" >40</text>
<line x1="239.2" y1="389" x2="239.2" y2="391" stroke="#111" stroke-width="0.8" />
<text x="239.2" y="399" font-size="5.2" text-anchor="middle" fill="#222" stroke="#222" stroke-width="0.12" >60</text>
<line x1="249.2" y1="389" x2="249.2" y2="391" stroke="#111" stroke-width="0.8" />
<text x="249.2" y="399" font-size="5.2" text-anchor="middle" fill="#222" stroke="#222" stroke-width="0.12" >80</text>
<line x1="258.6" y1="389" x2="258.6" y2="391" stroke="#111" stroke-width="0.8" />
<text x="258.6" y="399" font-size="5.2" text-anchor="middle" fill="#222" stroke="#222" stroke-width="0.12" >100</text>
<line x1="208.5" y1="389" x2="208.5" y2="390.2" stroke="#111" stroke-width="0.5" />
<line x1="210.7" y1="389" x2="210.7" y2="390.2" stroke="#111" stroke-width="0.5" />
<line x1="212.9" y1="389" x2="212.9" y2="390.2" stroke="#111" stroke-width="0.5" />
<line x1="215.1" y1="389" x2="215.1" y2="390.2" stroke="#111" stroke-width="0.5" />
<line x1="217.3" y1="389" x2="217.3" y2="390.2" stroke="#111" stroke-width="0.5" />
<line x1="219.5" y1="389" x2="219.5" y2="390.2" stroke="#111" stroke-width="0.5" />
<line x1="221.7" y1="389" x2="221.7" y2="390.2" stroke="#111" stroke-width="0.5" />
<line x1="223.9" y1="389" x2="223.9" y2="390.2" stroke="#111" stroke-width="0.5" />
<line x1="226.1" y1="389" x2="226.1" y2="390.2" stroke="#111" stroke-width="0.5" />
<line x1="228.3" y1="389" x2="228.3" y2="390.2" stroke="#111" stroke-width="0.5" />
<line x1="230.5" y1="389" x2="230.5" y2="390.2" stroke="#111" stroke-width="0.5" />
<line x1="232.7" y1="389" x2="232.7" y2="390.2" stroke="#111" stroke-width="0.5" />
<line x1="234.9" y1="389" x2="234.9" y2="390.2" stroke="#111" stroke-width="0.5" />
<line x1="237.1" y1="389" x2="237.1" y2="390.2" stroke="#111" stroke-width="0.5" />
<line x1="239.3" y1="389" x2="239.3" y2="390.2" stroke="#111" stroke-width="0.5" />
<line x1="241.5" y1="389" x2="241.5" y2="390.2" stroke="#111" stroke-width="0.5" />
<line x1="243.7" y1="389" x2="243.7" y2="390.2" stroke="#111" stroke-width="0.5" />
<line x1="245.9" y1="389" x2="245.9" y2="390.2" stroke="#111" stroke-width="0.5" />
<line x1="248.1" y1="389" x2="248.1" y2="390.2" stroke="#111" stroke-width="0.5" />
<line x1="250.3" y1="389" x2="250.3" y2="390.2" stroke="#111" stroke-width="0.5" />
<line x1="252.5" y1="389" x2="252.5" y2="390.2" stroke="#111" stroke-width="0.5" />
<line x1="254.7" y1="389" x2="254.7" y2="390.2" stroke="#111" stroke-width="0.5" />
<line x1="256.9" y1="389" x2="256.9" y2="390.2" stroke="#111" stroke-width="0.5" />
<line x1="259.1" y1="389" x2="259.1" y2="390.2" stroke="#111" stroke-width="0.5" />
<line x1="261.3" y1="389" x2="261.3" y2="390.2" stroke="#111" stroke-width="0.5" />
<line x1="263.5" y1="389" x2="263.5" y2="390.2" stroke="#111" stroke-width="0.5" />
<rect x="233.5" y="385.6" width="19.5" height="3.4" fill="#eef2fa" stroke="#555" stroke-width="0.6"/>
<circle cx="253" cy="385.8" r="1.3" fill="#fff" stroke="#333" stroke-width="0.6"/>
<polygon points="250.5,389 253,386.4 255.5,389" fill="#222"/>
<polygon points="230.4,389 232.3,346 234.2,389" fill="#b4101e" stroke="#5a0010" stroke-width="0.4"/>
<text x="263.8" y="349.9" font-size="5.2" text-anchor="end" fill="#222" stroke="#222" stroke-width="0.12" >G1: 52%</text>
<text x="263.8" y="356.3" font-size="5.2" text-anchor="end" fill="#222" stroke="#222" stroke-width="0.12" >S: 42%</text>
<text x="263.8" y="362.7" font-size="5.2" text-anchor="end" fill="#222" stroke="#222" stroke-width="0.12" >G2/M: 6%</text>
<text transform="translate(134.9,366.7) rotate(-90)" font-size="6.6" text-anchor="middle" fill="#000" stroke="#000" stroke-width="0.12" >Counts</text>
<text x="181" y="408.7" font-size="6.7" text-anchor="middle" fill="#222" stroke="#222" stroke-width="0.12" >shCtrl</text>
<text x="236.1" y="408.7" font-size="6.9" text-anchor="middle" fill="#222" stroke="#222" stroke-width="0.12" >shlincRNA-3q1</text>
<text x="305.4" y="219.6" font-size="11.2" text-anchor="start" fill="#000" stroke="#000" stroke-width="0.06" font-weight="bold" >D</text>
<text x="343.8" y="230.4" font-size="6.5" text-anchor="start" fill="#d8283a" stroke="#d8283a" stroke-width="0.06" font-weight="bold" >shCtrl</text>
<text x="365.4" y="230.4" font-size="6.45" text-anchor="start" fill="#3a46a6" stroke="#3a46a6" stroke-width="0.06" font-weight="bold" >shlincRNA-3q</text>
<rect x="349.2" y="232.1" width="16.3" height="82.3" fill="#ee1414" />
<rect x="365.5" y="232.1" width="16.3" height="82.3" fill="#5a0cee" />
<rect x="349.2" y="314.4" width="16.3" height="82.3" fill="#5a0cee" />
<rect x="365.5" y="314.4" width="16.3" height="82.3" fill="#ee1414" />
<rect x="357.35" y="232.1" width="4.38" height="2.31" fill="#f23a3a" />
<rect x="365.5" y="232.1" width="4.38" height="2.31" fill="#5c10ee" />
<rect x="377.73" y="232.1" width="4.38" height="2.31" fill="#5c10ee" />
<rect x="353.27" y="234.11" width="4.38" height="2.31" fill="#f01c1c" />
<rect x="365.5" y="234.11" width="4.38" height="2.31" fill="#5c10ee" />
<rect x="369.57" y="234.11" width="4.38" height="2.31" fill="#7a3cf2" />
<rect x="349.2" y="236.11" width="4.38" height="2.31" fill="#f23a3a" />
<rect x="353.27" y="236.11" width="4.38" height="2.31" fill="#fbd4d4" />
<rect x="357.35" y="236.11" width="4.38" height="2.31" fill="#f23a3a" />
<rect x="361.43" y="236.11" width="4.38" height="2.31" fill="#f01c1c" />
<rect x="365.5" y="236.11" width="4.38" height="2.31" fill="#dcc8fa" />
<rect x="373.65" y="236.11" width="4.38" height="2.31" fill="#7a3cf2" />
<rect x="361.43" y="238.12" width="4.38" height="2.31" fill="#f8a8a8" />
<rect x="369.57" y="238.12" width="4.38" height="2.31" fill="#5c10ee" />
<rect x="373.65" y="238.12" width="4.38" height="2.31" fill="#5c10ee" />
<rect x="349.2" y="240.13" width="4.38" height="2.31" fill="#f01c1c" />
<rect x="365.5" y="240.13" width="4.38" height="2.31" fill="#6620f0" />
<rect x="369.57" y="240.13" width="4.38" height="2.31" fill="#5c10ee" />
<rect x="377.73" y="240.13" width="4.38" height="2.31" fill="#5c10ee" />
<rect x="349.2" y="242.14" width="4.38" height="2.31" fill="#f01c1c" />
<rect x="357.35" y="242.14" width="4.38" height="2.31" fill="#f8a8a8" />
<rect x="361.43" y="242.14" width="4.38" height="2.31" fill="#f46c6c" />
<rect x="369.57" y="242.14" width="4.38" height="2.31" fill="#5c10ee" />
<rect x="373.65" y="242.14" width="4.38" height="2.31" fill="#5c10ee" />
<rect x="377.73" y="242.14" width="4.38" height="2.31" fill="#7a3cf2" />
<rect x="349.2" y="244.14" width="4.38" height="2.31" fill="#f46c6c" />
<rect x="357.35" y="244.14" width="4.38" height="2.31" fill="#fbd4d4" />
<rect x="365.5" y="244.14" width="4.38" height="2.31" fill="#5c10ee" />
<rect x="369.57" y="244.14" width="4.38" height="2.31" fill="#6620f0" />
<rect x="377.73" y="244.14" width="4.38" height="2.31" fill="#5c10ee" />
<rect x="353.27" y="246.15" width="4.38" height="2.31" fill="#f23a3a" />
<rect x="357.35" y="246.15" width="4.38" height="2.31" fill="#f46c6c" />
<rect x="361.43" y="246.15" width="4.38" height="2.31" fill="#f23a3a" />
<rect x="365.5" y="246.15" width="4.38" height="2.31" fill="#7a3cf2" />
<rect x="373.65" y="246.15" width="4.38" height="2.31" fill="#6620f0" />
<rect x="377.73" y="246.15" width="4.38" height="2.31" fill="#5c10ee" />
<rect x="349.2" y="248.16" width="4.38" height="2.31" fill="#f23a3a" />
<rect x="353.27" y="248.16" width="4.38" height="2.31" fill="#f01c1c" />
<rect x="357.35" y="248.16" width="4.38" height="2.31" fill="#f8a8a8" />
<rect x="361.43" y="248.16" width="4.38" height="2.31" fill="#fbd4d4" />
<rect x="365.5" y="248.16" width="4.38" height="2.31" fill="#5c10ee" />
<rect x="369.57" y="248.16" width="4.38" height="2.31" fill="#5c10ee" />
<rect x="377.73" y="248.16" width="4.38" height="2.31" fill="#6620f0" />
<rect x="349.2" y="250.17" width="4.38" height="2.31" fill="#f23a3a" />
<rect x="353.27" y="250.17" width="4.38" height="2.31" fill="#fbd4d4" />
<rect x="357.35" y="250.17" width="4.38" height="2.31" fill="#f8a8a8" />
<rect x="369.57" y="250.17" width="4.38" height="2.31" fill="#5c10ee" />
<rect x="377.73" y="250.17" width="4.38" height="2.31" fill="#5c10ee" />
<rect x="361.43" y="252.17" width="4.38" height="2.31" fill="#f46c6c" />
<rect x="377.73" y="252.17" width="4.38" height="2.31" fill="#7a3cf2" />
<rect x="353.27" y="254.18" width="4.38" height="2.31" fill="#f01c1c" />
<rect x="357.35" y="254.18" width="4.38" height="2.31" fill="#f01c1c" />
<rect x="361.43" y="254.18" width="4.38" height="2.31" fill="#f8a8a8" />
<rect x="365.5" y="254.18" width="4.38" height="2.31" fill="#7a3cf2" />
<rect x="369.57" y="254.18" width="4.38" height="2.31" fill="#7a3cf2" />
<rect x="377.73" y="254.18" width="4.38" height="2.31" fill="#5c10ee" />
<rect x="349.2" y="256.19" width="4.38" height="2.31" fill="#f01c1c" />
<rect x="353.27" y="256.19" width="4.38" height="2.31" fill="#f8a8a8" />
<rect x="357.35" y="256.19" width="4.38" height="2.31" fill="#fbd4d4" />
<rect x="377.73" y="256.19" width="4.38" height="2.31" fill="#5c10ee" />
<rect x="349.2" y="258.2" width="4.38" height="2.31" fill="#f23a3a" />
<rect x="361.43" y="258.2" width="4.38" height="2.31" fill="#f01c1c" />
<rect x="369.57" y="258.2" width="4.38" height="2.31" fill="#5c10ee" />
<rect x="373.65" y="258.2" width="4.38" height="2.31" fill="#dcc8fa" />
<rect x="377.73" y="258.2" width="4.38" height="2.31" fill="#6620f0" />
<rect x="349.2" y="260.2" width="4.38" height="2.31" fill="#f01c1c" />
<rect x="353.27" y="260.2" width="4.38" height="2.31" fill="#f23a3a" />
<rect x="357.35" y="260.2" width="4.38" height="2.31" fill="#f23a3a" />
<rect x="365.5" y="260.2" width="4.38" height="2.31" fill="#b890f6" />
<rect x="369.57" y="260.2" width="4.38" height="2.31" fill="#6620f0" />
<rect x="373.65" y="260.2" width="4.38" height="2.31" fill="#7a3cf2" />
<rect x="377.73" y="260.2" width="4.38" height="2.31" fill="#6620f0" />
<rect x="349.2" y="262.21" width="4.38" height="2.31" fill="#f01c1c" />
<rect x="353.27" y="262.21" width="4.38" height="2.31" fill="#f01c1c" />
<rect x="361.43" y="262.21" width="4.38" height="2.31" fill="#f23a3a" />
<rect x="349.2" y="264.22" width="4.38" height="2.31" fill="#f01c1c" />
<rect x="377.73" y="264.22" width="4.38" height="2.31" fill="#7a3cf2" />
<rect x="349.2" y="266.22" width="4.38" height="2.31" fill="#f23a3a" />
<rect x="361.43" y="266.22" width="4.38" height="2.31" fill="#f01c1c" />
<rect x="373.65" y="266.22" width="4.38" height="2.31" fill="#7a3cf2" />
<rect x="377.73" y="266.22" width="4.38" height="2.31" fill="#dcc8fa" />
<rect x="349.2" y="268.23" width="4.38" height="2.31" fill="#f01c1c" />
<rect x="353.27" y="268.23" width="4.38" height="2.31" fill="#f01c1c" />
<rect x="373.65" y="268.23" width="4.38" height="2.31" fill="#7a3cf2" />
<rect x="353.27" y="270.24" width="4.38" height="2.31" fill="#fbd4d4" />
<rect x="357.35" y="270.24" width="4.38" height="2.31" fill="#f01c1c" />
<rect x="365.5" y="270.24" width="4.38" height="2.31" fill="#5c10ee" />
<rect x="373.65" y="270.24" width="4.38" height="2.31" fill="#5c10ee" />
<rect x="377.73" y="270.24" width="4.38" height="2.31" fill="#dcc8fa" />
<rect x="349.2" y="272.25" width="4.38" height="2.31" fill="#f8a8a8" />
<rect x="353.27" y="272.25" width="4.38" height="2.31" fill="#f46c6c" />
<rect x="361.43" y="272.25" width="4.38" height="2.31" fill="#f01c1c" />
<rect x="369.57" y="272.25" width="4.38" height="2.31" fill="#6620f0" />
<rect x="373.65" y="272.25" width="4.38" height="2.31" fill="#5c10ee" />
<rect x="377.73" y="272.25" width="4.38" height="2.31" fill="#6620f0" />
<rect x="357.35" y="274.25" width="4.38" height="2.31" fill="#f8a8a8" />
<rect x="361.43" y="274.25" width="4.38" height="2.31" fill="#fbd4d4" />
<rect x="365.5" y="274.25" width="4.38" height="2.31" fill="#7a3cf2" />
<rect x="369.57" y="274.25" width="4.38" height="2.31" fill="#7a3cf2" />
<rect x="373.65" y="274.25" width="4.38" height="2.31" fill="#7a3cf2" />
<rect x="377.73" y="274.25" width="4.38" height="2.31" fill="#6620f0" />
<rect x="353.27" y="276.26" width="4.38" height="2.31" fill="#f01c1c" />
<rect x="357.35" y="276.26" width="4.38" height="2.31" fill="#f01c1c" />
<rect x="377.73" y="276.26" width="4.38" height="2.31" fill="#6620f0" />
<rect x="349.2" y="278.27" width="4.38" height="2.31" fill="#fbd4d4" />
<rect x="353.27" y="278.27" width="4.38" height="2.31" fill="#f01c1c" />
<rect x="357.35" y="278.27" width="4.38" height="2.31" fill="#fbd4d4" />
<rect x="361.43" y="278.27" width="4.38" height="2.31" fill="#fbd4d4" />
<rect x="365.5" y="278.27" width="4.38" height="2.31" fill="#dcc8fa" />
<rect x="357.35" y="280.28" width="4.38" height="2.31" fill="#f23a3a" />
<rect x="361.43" y="280.28" width="4.38" height="2.31" fill="#fbd4d4" />
<rect x="365.5" y="280.28" width="4.38" height="2.31" fill="#7a3cf2" />
<rect x="369.57" y="280.28" width="4.38" height="2.31" fill="#5c10ee" />
<rect x="373.65" y="280.28" width="4.38" height="2.31" fill="#5c10ee" />
<rect x="377.73" y="280.28" width="4.38" height="2.31" fill="#6620f0" />
<rect x="353.27" y="282.28" width="4.38" height="2.31" fill="#f23a3a" />
<rect x="357.35" y="282.28" width="4.38" height="2.31" fill="#fbd4d4" />
<rect x="361.43" y="282.28" width="4.38" height="2.31" fill="#f8a8a8" />
<rect x="365.5" y="282.28" width="4.38" height="2.31" fill="#6620f0" />
<rect x="369.57" y="282.28" width="4.38" height="2.31" fill="#5c10ee" />
<rect x="377.73" y="282.28" width="4.38" height="2.31" fill="#6620f0" />
<rect x="353.27" y="284.29" width="4.38" height="2.31" fill="#f8a8a8" />
<rect x="357.35" y="284.29" width="4.38" height="2.31" fill="#fbd4d4" />
<rect x="361.43" y="284.29" width="4.38" height="2.31" fill="#f01c1c" />
<rect x="365.5" y="284.29" width="4.38" height="2.31" fill="#5c10ee" />
<rect x="369.57" y="284.29" width="4.38" height="2.31" fill="#b890f6" />
<rect x="373.65" y="284.29" width="4.38" height="2.31" fill="#6620f0" />
<rect x="357.35" y="286.3" width="4.38" height="2.31" fill="#fbd4d4" />
<rect x="361.43" y="286.3" width="4.38" height="2.31" fill="#f8a8a8" />
<rect x="369.57" y="286.3" width="4.38" height="2.31" fill="#7a3cf2" />
<rect x="373.65" y="286.3" width="4.38" height="2.31" fill="#dcc8fa" />
<rect x="377.73" y="286.3" width="4.38" height="2.31" fill="#5c10ee" />
<rect x="349.2" y="288.3" width="4.38" height="2.31" fill="#f01c1c" />
<rect x="353.27" y="288.3" width="4.38" height="2.31" fill="#f01c1c" />
<rect x="365.5" y="288.3" width="4.38" height="2.31" fill="#dcc8fa" />
<rect x="369.57" y="288.3" width="4.38" height="2.31" fill="#5c10ee" />
<rect x="373.65" y="288.3" width="4.38" height="2.31" fill="#5c10ee" />
<rect x="377.73" y="288.3" width="4.38" height="2.31" fill="#b890f6" />
<rect x="349.2" y="290.31" width="4.38" height="2.31" fill="#f01c1c" />
<rect x="353.27" y="290.31" width="4.38" height="2.31" fill="#f8a8a8" />
<rect x="357.35" y="290.31" width="4.38" height="2.31" fill="#f8a8a8" />
<rect x="377.73" y="290.31" width="4.38" height="2.31" fill="#5c10ee" />
<rect x="353.27" y="292.32" width="4.38" height="2.31" fill="#f01c1c" />
<rect x="361.43" y="292.32" width="4.38" height="2.31" fill="#fbd4d4" />
<rect x="369.57" y="292.32" width="4.38" height="2.31" fill="#5c10ee" />
<rect x="373.65" y="292.32" width="4.38" height="2.31" fill="#5c10ee" />
<rect x="377.73" y="292.32" width="4.38" height="2.31" fill="#b890f6" />
<rect x="349.2" y="294.33" width="4.38" height="2.31" fill="#f01c1c" />
<rect x="353.27" y="294.33" width="4.38" height="2.31" fill="#fbd4d4" />
<rect x="357.35" y="294.33" width="4.38" height="2.31" fill="#f01c1c" />
<rect x="361.43" y="294.33" width="4.38" height="2.31" fill="#f01c1c" />
<rect x="365.5" y="294.33" width="4.38" height="2.31" fill="#5c10ee" />
<rect x="373.65" y="294.33" width="4.38" height="2.31" fill="#5c10ee" />
<rect x="353.27" y="296.33" width="4.38" height="2.31" fill="#f8a8a8" />
<rect x="361.43" y="296.33" width="4.38" height="2.31" fill="#f01c1c" />
<rect x="365.5" y="296.33" width="4.38" height="2.31" fill="#6620f0" />
<rect x="369.57" y="296.33" width="4.38" height="2.31" fill="#5c10ee" />
<rect x="377.73" y="296.33" width="4.38" height="2.31" fill="#5c10ee" />
<rect x="349.2" y="298.34" width="4.38" height="2.31" fill="#f01c1c" />
<rect x="353.27" y="298.34" width="4.38" height="2.31" fill="#f8a8a8" />
<rect x="361.43" y="298.34" width="4.38" height="2.31" fill="#f23a3a" />
<rect x="373.65" y="298.34" width="4.38" height="2.31" fill="#6620f0" />
<rect x="377.73" y="298.34" width="4.38" height="2.31" fill="#5c10ee" />
<rect x="349.2" y="300.35" width="4.38" height="2.31" fill="#f23a3a" />
<rect x="353.27" y="300.35" width="4.38" height="2.31" fill="#f46c6c" />
<rect x="357.35" y="300.35" width="4.38" height="2.31" fill="#fbd4d4" />
<rect x="361.43" y="300.35" width="4.38" height="2.31" fill="#f01c1c" />
<rect x="365.5" y="300.35" width="4.38" height="2.31" fill="#5c10ee" />
<rect x="369.57" y="300.35" width="4.38" height="2.31" fill="#5c10ee" />
<rect x="373.65" y="300.35" width="4.38" height="2.31" fill="#5c10ee" />
<rect x="377.73" y="300.35" width="4.38" height="2.31" fill="#6620f0" />
<rect x="349.2" y="302.36" width="4.38" height="2.31" fill="#f01c1c" />
<rect x="353.27" y="302.36" width="4.38" height="2.31" fill="#f01c1c" />
<rect x="357.35" y="302.36" width="4.38" height="2.31" fill="#f01c1c" />
<rect x="361.43" y="302.36" width="4.38" height="2.31" fill="#fbd4d4" />
<rect x="365.5" y="302.36" width="4.38" height="2.31" fill="#6620f0" />
<rect x="369.57" y="302.36" width="4.38" height="2.31" fill="#7a3cf2" />
<rect x="373.65" y="302.36" width="4.38" height="2.31" fill="#b890f6" />
<rect x="349.2" y="304.36" width="4.38" height="2.31" fill="#f01c1c" />
<rect x="353.27" y="304.36" width="4.38" height="2.31" fill="#fbd4d4" />
<rect x="357.35" y="304.36" width="4.38" height="2.31" fill="#f8a8a8" />
<rect x="369.57" y="304.36" width="4.38" height="2.31" fill="#5c10ee" />
<rect x="353.27" y="306.37" width="4.38" height="2.31" fill="#f23a3a" />
<rect x="357.35" y="306.37" width="4.38" height="2.31" fill="#f8a8a8" />
<rect x="361.43" y="306.37" width="4.38" height="2.31" fill="#f8a8a8" />
<rect x="369.57" y="306.37" width="4.38" height="2.31" fill="#6620f0" />
<rect x="373.65" y="306.37" width="4.38" height="2.31" fill="#5c10ee" />
<rect x="349.2" y="308.38" width="4.38" height="2.31" fill="#f8a8a8" />
<rect x="353.27" y="308.38" width="4.38" height="2.31" fill="#fbd4d4" />
<rect x="361.43" y="308.38" width="4.38" height="2.31" fill="#fbd4d4" />
<rect x="369.57" y="308.38" width="4.38" height="2.31" fill="#5c10ee" />
<rect x="373.65" y="308.38" width="4.38" height="2.31" fill="#dcc8fa" />
<rect x="377.73" y="308.38" width="4.38" height="2.31" fill="#7a3cf2" />
<rect x="353.27" y="310.39" width="4.38" height="2.31" fill="#f01c1c" />
<rect x="357.35" y="310.39" width="4.38" height="2.31" fill="#f01c1c" />
<rect x="373.65" y="310.39" width="4.38" height="2.31" fill="#6620f0" />
<rect x="349.2" y="312.39" width="4.38" height="2.31" fill="#f01c1c" />
<rect x="353.27" y="312.39" width="4.38" height="2.31" fill="#f01c1c" />
<rect x="365.5" y="312.39" width="4.38" height="2.31" fill="#5c10ee" />
<rect x="369.57" y="312.39" width="4.38" height="2.31" fill="#5c10ee" />
<rect x="377.73" y="312.39" width="4.38" height="2.31" fill="#dcc8fa" />
<rect x="349.2" y="314.4" width="4.38" height="2.31" fill="#6620f0" />
<rect x="353.27" y="314.4" width="4.38" height="2.31" fill="#dcc8fa" />
<rect x="369.57" y="314.4" width="4.38" height="2.31" fill="#f46c6c" />
<rect x="349.2" y="316.41" width="4.38" height="2.31" fill="#5c10ee" />
<rect x="353.27" y="316.41" width="4.38" height="2.31" fill="#b890f6" />
<rect x="357.35" y="316.41" width="4.38" height="2.31" fill="#7a3cf2" />
<rect x="369.57" y="316.41" width="4.38" height="2.31" fill="#fbd4d4" />
<rect x="373.65" y="316.41" width="4.38" height="2.31" fill="#f23a3a" />
<rect x="377.73" y="316.41" width="4.38" height="2.31" fill="#f46c6c" />
<rect x="357.35" y="318.41" width="4.38" height="2.31" fill="#6620f0" />
<rect x="361.43" y="318.41" width="4.38" height="2.31" fill="#5c10ee" />
<rect x="369.57" y="318.41" width="4.38" height="2.31" fill="#fbd4d4" />
<rect x="373.65" y="318.41" width="4.38" height="2.31" fill="#f23a3a" />
<rect x="377.73" y="318.41" width="4.38" height="2.31" fill="#f8a8a8" />
<rect x="353.27" y="320.42" width="4.38" height="2.31" fill="#7a3cf2" />
<rect x="361.43" y="320.42" width="4.38" height="2.31" fill="#7a3cf2" />
<rect x="365.5" y="320.42" width="4.38" height="2.31" fill="#f01c1c" />
<rect x="373.65" y="320.42" width="4.38" height="2.31" fill="#f01c1c" />
<rect x="377.73" y="320.42" width="4.38" height="2.31" fill="#fbd4d4" />
<rect x="357.35" y="322.43" width="4.38" height="2.31" fill="#5c10ee" />
<rect x="357.35" y="324.44" width="4.38" height="2.31" fill="#6620f0" />
<rect x="365.5" y="324.44" width="4.38" height="2.31" fill="#f01c1c" />
<rect x="373.65" y="324.44" width="4.38" height="2.31" fill="#f01c1c" />
<rect x="357.35" y="326.44" width="4.38" height="2.31" fill="#6620f0" />
<rect x="361.43" y="326.44" width="4.38" height="2.31" fill="#5c10ee" />
<rect x="369.57" y="326.44" width="4.38" height="2.31" fill="#f01c1c" />
<rect x="373.65" y="326.44" width="4.38" height="2.31" fill="#fbd4d4" />
<rect x="349.2" y="328.45" width="4.38" height="2.31" fill="#7a3cf2" />
<rect x="353.27" y="328.45" width="4.38" height="2.31" fill="#5c10ee" />
<rect x="357.35" y="328.45" width="4.38" height="2.31" fill="#5c10ee" />
<rect x="361.43" y="328.45" width="4.38" height="2.31" fill="#7a3cf2" />
<rect x="365.5" y="328.45" width="4.38" height="2.31" fill="#f01c1c" />
<rect x="369.57" y="328.45" width="4.38" height="2.31" fill="#f01c1c" />
<rect x="373.65" y="328.45" width="4.38" height="2.31" fill="#f46c6c" />
<rect x="377.73" y="328.45" width="4.38" height="2.31" fill="#fbd4d4" />
<rect x="353.27" y="330.46" width="4.38" height="2.31" fill="#7a3cf2" />
<rect x="357.35" y="330.46" width="4.38" height="2.31" fill="#6620f0" />
<rect x="361.43" y="330.46" width="4.38" height="2.31" fill="#5c10ee" />
<rect x="365.5" y="330.46" width="4.38" height="2.31" fill="#f01c1c" />
<rect x="369.57" y="330.46" width="4.38" height="2.31" fill="#f01c1c" />
<rect x="353.27" y="332.47" width="4.38" height="2.31" fill="#6620f0" />
<rect x="369.57" y="332.47" width="4.38" height="2.31" fill="#f8a8a8" />
<rect x="373.65" y="332.47" width="4.38" height="2.31" fill="#f8a8a8" />
<rect x="377.73" y="332.47" width="4.38" height="2.31" fill="#f23a3a" />
<rect x="361.43" y="334.47" width="4.38" height="2.31" fill="#5c10ee" />
<rect x="369.57" y="334.47" width="4.38" height="2.31" fill="#f01c1c" />
<rect x="377.73" y="334.47" width="4.38" height="2.31" fill="#fbd4d4" />
<rect x="349.2" y="336.48" width="4.38" height="2.31" fill="#dcc8fa" />
<rect x="353.27" y="336.48" width="4.38" height="2.31" fill="#5c10ee" />
<rect x="361.43" y="336.48" width="4.38" height="2.31" fill="#dcc8fa" />
<rect x="369.57" y="336.48" width="4.38" height="2.31" fill="#f01c1c" />
<rect x="377.73" y="336.48" width="4.38" height="2.31" fill="#f01c1c" />
<rect x="349.2" y="338.49" width="4.38" height="2.31" fill="#5c10ee" />
<rect x="353.27" y="338.49" width="4.38" height="2.31" fill="#5c10ee" />
<rect x="361.43" y="338.49" width="4.38" height="2.31" fill="#5c10ee" />
<rect x="377.73" y="338.49" width="4.38" height="2.31" fill="#f01c1c" />
<rect x="365.5" y="340.5" width="4.38" height="2.31" fill="#f23a3a" />
<rect x="369.57" y="340.5" width="4.38" height="2.31" fill="#f01c1c" />
<rect x="373.65" y="340.5" width="4.38" height="2.31" fill="#f46c6c" />
<rect x="377.73" y="340.5" width="4.38" height="2.31" fill="#f23a3a" />
<rect x="349.2" y="342.5" width="4.38" height="2.31" fill="#6620f0" />
<rect x="353.27" y="342.5" width="4.38" height="2.31" fill="#7a3cf2" />
<rect x="365.5" y="342.5" width="4.38" height="2.31" fill="#fbd4d4" />
<rect x="373.65" y="342.5" width="4.38" height="2.31" fill="#f46c6c" />
<rect x="377.73" y="342.5" width="4.38" height="2.31" fill="#f23a3a" />
<rect x="353.27" y="344.51" width="4.38" height="2.31" fill="#7a3cf2" />
<rect x="357.35" y="344.51" width="4.38" height="2.31" fill="#b890f6" />
<rect x="361.43" y="344.51" width="4.38" height="2.31" fill="#5c10ee" />
<rect x="365.5" y="344.51" width="4.38" height="2.31" fill="#f46c6c" />
<rect x="369.57" y="344.51" width="4.38" height="2.31" fill="#f8a8a8" />
<rect x="377.73" y="344.51" width="4.38" height="2.31" fill="#f01c1c" />
<rect x="349.2" y="346.52" width="4.38" height="2.31" fill="#5c10ee" />
<rect x="353.27" y="346.52" width="4.38" height="2.31" fill="#7a3cf2" />
<rect x="357.35" y="346.52" width="4.38" height="2.31" fill="#7a3cf2" />
<rect x="361.43" y="346.52" width="4.38" height="2.31" fill="#7a3cf2" />
<rect x="365.5" y="346.52" width="4.38" height="2.31" fill="#f23a3a" />
<rect x="369.57" y="346.52" width="4.38" height="2.31" fill="#f8a8a8" />
<rect x="373.65" y="346.52" width="4.38" height="2.31" fill="#f46c6c" />
<rect x="377.73" y="346.52" width="4.38" height="2.31" fill="#f46c6c" />
<rect x="369.57" y="348.52" width="4.38" height="2.31" fill="#f8a8a8" />
<rect x="373.65" y="348.52" width="4.38" height="2.31" fill="#f01c1c" />
<rect x="377.73" y="348.52" width="4.38" height="2.31" fill="#f23a3a" />
<rect x="349.2" y="350.53" width="4.38" height="2.31" fill="#5c10ee" />
<rect x="353.27" y="350.53" width="4.38" height="2.31" fill="#6620f0" />
<rect x="357.35" y="350.53" width="4.38" height="2.31" fill="#5c10ee" />
<rect x="365.5" y="350.53" width="4.38" height="2.31" fill="#f8a8a8" />
<rect x="369.57" y="350.53" width="4.38" height="2.31" fill="#f46c6c" />
<rect x="373.65" y="350.53" width="4.38" height="2.31" fill="#f01c1c" />
<rect x="377.73" y="350.53" width="4.38" height="2.31" fill="#f01c1c" />
<rect x="349.2" y="352.54" width="4.38" height="2.31" fill="#5c10ee" />
<rect x="357.35" y="352.54" width="4.38" height="2.31" fill="#6620f0" />
<rect x="373.65" y="352.54" width="4.38" height="2.31" fill="#f46c6c" />
<rect x="349.2" y="354.55" width="4.38" height="2.31" fill="#6620f0" />
<rect x="353.27" y="354.55" width="4.38" height="2.31" fill="#dcc8fa" />
<rect x="357.35" y="354.55" width="4.38" height="2.31" fill="#5c10ee" />
<rect x="365.5" y="354.55" width="4.38" height="2.31" fill="#f01c1c" />
<rect x="369.57" y="354.55" width="4.38" height="2.31" fill="#f46c6c" />
<rect x="373.65" y="354.55" width="4.38" height="2.31" fill="#f46c6c" />
<rect x="377.73" y="354.55" width="4.38" height="2.31" fill="#f23a3a" />
<rect x="349.2" y="356.55" width="4.38" height="2.31" fill="#5c10ee" />
<rect x="365.5" y="356.55" width="4.38" height="2.31" fill="#f46c6c" />
<rect x="373.65" y="356.55" width="4.38" height="2.31" fill="#f23a3a" />
<rect x="357.35" y="358.56" width="4.38" height="2.31" fill="#5c10ee" />
<rect x="361.43" y="358.56" width="4.38" height="2.31" fill="#6620f0" />
<rect x="365.5" y="358.56" width="4.38" height="2.31" fill="#f23a3a" />
<rect x="373.65" y="358.56" width="4.38" height="2.31" fill="#f01c1c" />
<rect x="377.73" y="358.56" width="4.38" height="2.31" fill="#f01c1c" />
<rect x="349.2" y="360.57" width="4.38" height="2.31" fill="#5c10ee" />
<rect x="357.35" y="360.57" width="4.38" height="2.31" fill="#b890f6" />
<rect x="365.5" y="360.57" width="4.38" height="2.31" fill="#fbd4d4" />
<rect x="369.57" y="360.57" width="4.38" height="2.31" fill="#fbd4d4" />
<rect x="377.73" y="360.57" width="4.38" height="2.31" fill="#f01c1c" />
<rect x="349.2" y="362.58" width="4.38" height="2.31" fill="#7a3cf2" />
<rect x="353.27" y="362.58" width="4.38" height="2.31" fill="#dcc8fa" />
<rect x="357.35" y="362.58" width="4.38" height="2.31" fill="#5c10ee" />
<rect x="369.57" y="362.58" width="4.38" height="2.31" fill="#fbd4d4" />
<rect x="377.73" y="362.58" width="4.38" height="2.31" fill="#f23a3a" />
<rect x="353.27" y="364.58" width="4.38" height="2.31" fill="#5c10ee" />
<rect x="357.35" y="364.58" width="4.38" height="2.31" fill="#dcc8fa" />
<rect x="365.5" y="364.58" width="4.38" height="2.31" fill="#f8a8a8" />
<rect x="369.57" y="364.58" width="4.38" height="2.31" fill="#f01c1c" />
<rect x="373.65" y="364.58" width="4.38" height="2.31" fill="#f8a8a8" />
<rect x="377.73" y="364.58" width="4.38" height="2.31" fill="#f46c6c" />
<rect x="353.27" y="366.59" width="4.38" height="2.31" fill="#b890f6" />
<rect x="357.35" y="366.59" width="4.38" height="2.31" fill="#5c10ee" />
<rect x="369.57" y="366.59" width="4.38" height="2.31" fill="#f01c1c" />
<rect x="373.65" y="366.59" width="4.38" height="2.31" fill="#f01c1c" />
<rect x="361.43" y="368.6" width="4.38" height="2.31" fill="#7a3cf2" />
<rect x="369.57" y="368.6" width="4.38" height="2.31" fill="#f46c6c" />
<rect x="373.65" y="368.6" width="4.38" height="2.31" fill="#f8a8a8" />
<rect x="349.2" y="370.6" width="4.38" height="2.31" fill="#b890f6" />
<rect x="353.27" y="370.6" width="4.38" height="2.31" fill="#6620f0" />
<rect x="357.35" y="370.6" width="4.38" height="2.31" fill="#b890f6" />
<rect x="365.5" y="370.6" width="4.38" height="2.31" fill="#f01c1c" />
<rect x="369.57" y="370.6" width="4.38" height="2.31" fill="#f01c1c" />
<rect x="373.65" y="370.6" width="4.38" height="2.31" fill="#fbd4d4" />
<rect x="377.73" y="370.6" width="4.38" height="2.31" fill="#f23a3a" />
<rect x="353.27" y="372.61" width="4.38" height="2.31" fill="#5c10ee" />
<rect x="369.57" y="372.61" width="4.38" height="2.31" fill="#f8a8a8" />
<rect x="377.73" y="372.61" width="4.38" height="2.31" fill="#fbd4d4" />
<rect x="357.35" y="374.62" width="4.38" height="2.31" fill="#5c10ee" />
<rect x="365.5" y="374.62" width="4.38" height="2.31" fill="#f01c1c" />
<rect x="369.57" y="374.62" width="4.38" height="2.31" fill="#fbd4d4" />
<rect x="373.65" y="374.62" width="4.38" height="2.31" fill="#f8a8a8" />
<rect x="377.73" y="374.62" width="4.38" height="2.31" fill="#f8a8a8" />
<rect x="349.2" y="376.63" width="4.38" height="2.31" fill="#5c10ee" />
<rect x="353.27" y="376.63" width="4.38" height="2.31" fill="#b890f6" />
<rect x="357.35" y="376.63" width="4.38" height="2.31" fill="#b890f6" />
<rect x="361.43" y="376.63" width="4.38" height="2.31" fill="#5c10ee" />
<rect x="365.5" y="376.63" width="4.38" height="2.31" fill="#f46c6c" />
<rect x="373.65" y="376.63" width="4.38" height="2.31" fill="#f46c6c" />
<rect x="377.73" y="376.63" width="4.38" height="2.31" fill="#f01c1c" />
<rect x="349.2" y="378.63" width="4.38" height="2.31" fill="#6620f0" />
<rect x="353.27" y="378.63" width="4.38" height="2.31" fill="#5c10ee" />
<rect x="365.5" y="378.63" width="4.38" height="2.31" fill="#fbd4d4" />
<rect x="373.65" y="378.63" width="4.38" height="2.31" fill="#f01c1c" />
<rect x="377.73" y="378.63" width="4.38" height="2.31" fill="#f01c1c" />
<rect x="353.27" y="380.64" width="4.38" height="2.31" fill="#6620f0" />
<rect x="357.35" y="380.64" width="4.38" height="2.31" fill="#dcc8fa" />
<rect x="365.5" y="380.64" width="4.38" height="2.31" fill="#f23a3a" />
<rect x="373.65" y="380.64" width="4.38" height="2.31" fill="#f01c1c" />
<rect x="377.73" y="380.64" width="4.38" height="2.31" fill="#f01c1c" />
<rect x="361.43" y="382.65" width="4.38" height="2.31" fill="#b890f6" />
<rect x="365.5" y="382.65" width="4.38" height="2.31" fill="#f01c1c" />
<rect x="373.65" y="382.65" width="4.38" height="2.31" fill="#fbd4d4" />
<rect x="377.73" y="382.65" width="4.38" height="2.31" fill="#fbd4d4" />
<rect x="349.2" y="384.66" width="4.38" height="2.31" fill="#5c10ee" />
<rect x="365.5" y="384.66" width="4.38" height="2.31" fill="#f01c1c" />
<rect x="349.2" y="386.66" width="4.38" height="2.31" fill="#5c10ee" />
<rect x="353.27" y="386.66" width="4.38" height="2.31" fill="#b890f6" />
<rect x="357.35" y="386.66" width="4.38" height="2.31" fill="#6620f0" />
<rect x="361.43" y="386.66" width="4.38" height="2.31" fill="#5c10ee" />
<rect x="365.5" y="386.66" width="4.38" height="2.31" fill="#f01c1c" />
<rect x="369.57" y="386.66" width="4.38" height="2.31" fill="#f01c1c" />
<rect x="373.65" y="386.66" width="4.38" height="2.31" fill="#f01c1c" />
<rect x="357.35" y="388.67" width="4.38" height="2.31" fill="#dcc8fa" />
<rect x="365.5" y="388.67" width="4.38" height="2.31" fill="#f01c1c" />
<rect x="369.57" y="388.67" width="4.38" height="2.31" fill="#f23a3a" />
<rect x="373.65" y="388.67" width="4.38" height="2.31" fill="#f8a8a8" />
<rect x="361.43" y="390.68" width="4.38" height="2.31" fill="#5c10ee" />
<rect x="365.5" y="390.68" width="4.38" height="2.31" fill="#fbd4d4" />
<rect x="369.57" y="390.68" width="4.38" height="2.31" fill="#f8a8a8" />
<rect x="373.65" y="390.68" width="4.38" height="2.31" fill="#f8a8a8" />
<rect x="353.27" y="392.69" width="4.38" height="2.31" fill="#6620f0" />
<rect x="357.35" y="392.69" width="4.38" height="2.31" fill="#b890f6" />
<rect x="361.43" y="392.69" width="4.38" height="2.31" fill="#5c10ee" />
<rect x="365.5" y="392.69" width="4.38" height="2.31" fill="#f23a3a" />
<rect x="373.65" y="392.69" width="4.38" height="2.31" fill="#f01c1c" />
<rect x="377.73" y="392.69" width="4.38" height="2.31" fill="#fbd4d4" />
<rect x="349.2" y="394.69" width="4.38" height="2.31" fill="#7a3cf2" />
<rect x="353.27" y="394.69" width="4.38" height="2.31" fill="#7a3cf2" />
<rect x="357.35" y="394.69" width="4.38" height="2.31" fill="#dcc8fa" />
<rect x="373.65" y="394.69" width="4.38" height="2.31" fill="#f01c1c" />
<rect x="377.73" y="394.69" width="4.38" height="2.31" fill="#f46c6c" />
<text x="342" y="254.8" font-size="5.4" text-anchor="end" fill="#111" stroke="#111" stroke-width="0.06" font-weight="bold" font-style="italic" >TCL1B</text>
<line x1="342.3" y1="252.9" x2="347" y2="252.9" stroke="#111" stroke-width="1.1" />
<polygon points="349.2,252.9 346.2,251.3 346.2,254.5" fill="#111"/>
<text x="340.8" y="310.7" font-size="5.4" text-anchor="end" fill="#111" stroke="#111" stroke-width="0.06" font-weight="bold" font-style="italic" >HOXB4</text>
<line x1="341.1" y1="308.8" x2="347" y2="308.8" stroke="#111" stroke-width="1.1" />
<polygon points="349.2,308.8 346.2,307.2 346.2,310.4" fill="#111"/>
<text x="342" y="351.9" font-size="5.4" text-anchor="end" fill="#111" stroke="#111" stroke-width="0.06" font-weight="bold" font-style="italic" >TP53INP1</text>
<line x1="342.3" y1="350" x2="347" y2="350" stroke="#111" stroke-width="1.1" />
<polygon points="349.2,350 346.2,348.4 346.2,351.6" fill="#111"/>
<text x="454" y="238.2" font-size="4.6" text-anchor="middle" fill="#111" stroke="#111" stroke-width="0.12" >Enrichment plot: ISHIDA_E2F_TARGETS</text>
<text transform="translate(398.3,264.3) rotate(-90)" font-size="2.9" text-anchor="middle" fill="#333" stroke="#333" stroke-width="0.12" >Enrichment score (ES)</text>
<text x="404.6" y="248.1" font-size="2.8" text-anchor="end" fill="#444" stroke="#444" stroke-width="0.12" >0.5</text>
<text x="404.6" y="255.5" font-size="2.8" text-anchor="end" fill="#444" stroke="#444" stroke-width="0.12" >0.4</text>
<text x="404.6" y="262.6" font-size="2.8" text-anchor="end" fill="#444" stroke="#444" stroke-width="0.12" >0.3</text>
<text x="404.6" y="269.6" font-size="2.8" text-anchor="end" fill="#444" stroke="#444" stroke-width="0.12" >0.2</text>
<text x="404.6" y="276.4" font-size="2.8" text-anchor="end" fill="#444" stroke="#444" stroke-width="0.12" >0.1</text>
<text x="404.6" y="283.4" font-size="2.8" text-anchor="end" fill="#444" stroke="#444" stroke-width="0.12" >0.0</text>
<path d="M406.2,282.8 L406.8,278 L407.5,268 L408.2,258 L408.8,255.2 L409.8,253 L410.9,251.8 L412.9,251.2 L413.8,249 L414.9,247.1 L416.5,245.2 L418.3,243.7 L419.5,243.4 L421,242.4 L423,243.3 L424.5,244.6 L426.3,245.8 L429,245.5 L431,246.8 L434.4,249.1 L438.5,251.2 L450,258.8 L460,265.8 L470,272.4 L480,278.8 L490.8,285.4 L493,283.8 L495,284.2 L497,284.6 L500,283.8 L503,285.4 L505.4,282.3" fill="none" stroke="#d0f4c8" stroke-width="2.4" stroke-linejoin="round"/>
<path d="M406.2,282.8 L406.8,278 L407.5,268 L408.2,258 L408.8,255.2 L409.8,253 L410.9,251.8 L412.9,251.2 L413.8,249 L414.9,247.1 L416.5,245.2 L418.3,243.7 L419.5,243.4 L421,242.4 L423,243.3 L424.5,244.6 L426.3,245.8 L429,245.5 L431,246.8 L434.4,249.1 L438.5,251.2 L450,258.8 L460,265.8 L470,272.4 L480,278.8 L490.8,285.4 L493,283.8 L495,284.2 L497,284.6 L500,283.8 L503,285.4 L505.4,282.3" fill="none" stroke="#44cc44" stroke-width="0.95" stroke-linejoin="round"/>
<line x1="408.4" y1="288.8" x2="408.4" y2="304.2" stroke="#282828" stroke-width="0.9" />
<line x1="409.4" y1="288.8" x2="409.4" y2="304.2" stroke="#3c3c3c" stroke-width="0.8" />
<line x1="412.8" y1="288.8" x2="412.8" y2="304.2" stroke="#323232" stroke-width="0.9" />
<line x1="413.8" y1="288.8" x2="413.8" y2="304.2" stroke="#464646" stroke-width="0.8" />
<line x1="415" y1="288.8" x2="415" y2="304.2" stroke="#3c3c3c" stroke-width="0.9" />
<line x1="417.3" y1="288.8" x2="417.3" y2="304.2" stroke="#787878" stroke-width="0.8" />
<line x1="418.8" y1="288.8" x2="418.8" y2="304.2" stroke="#8c8c8c" stroke-width="0.8" />
<line x1="421" y1="288.8" x2="421" y2="304.2" stroke="#828282" stroke-width="0.8" />
<line x1="427.7" y1="288.8" x2="427.7" y2="304.2" stroke="#969696" stroke-width="0.9" />
<line x1="428.8" y1="288.8" x2="428.8" y2="304.2" stroke="#aaaaaa" stroke-width="0.8" />
<line x1="435.4" y1="288.8" x2="435.4" y2="304.2" stroke="#afafaf" stroke-width="0.8" />
<line x1="437.6" y1="288.8" x2="437.6" y2="304.2" stroke="#a0a0a0" stroke-width="0.8" />
<line x1="447.6" y1="288.8" x2="447.6" y2="304.2" stroke="#c8c8c8" stroke-width="0.8" />
<line x1="449.1" y1="288.8" x2="449.1" y2="304.2" stroke="#bebebe" stroke-width="0.8" />
<line x1="452" y1="288.8" x2="452" y2="304.2" stroke="#b9b9b9" stroke-width="0.8" />
<line x1="454.2" y1="288.8" x2="454.2" y2="304.2" stroke="#c8c8c8" stroke-width="0.8" />
<line x1="457.5" y1="288.8" x2="457.5" y2="304.2" stroke="#bebebe" stroke-width="0.8" />
<line x1="460.8" y1="288.8" x2="460.8" y2="304.2" stroke="#b4b4b4" stroke-width="0.8" />
<line x1="464.2" y1="288.8" x2="464.2" y2="304.2" stroke="#c3c3c3" stroke-width="0.8" />
<line x1="471.9" y1="288.8" x2="471.9" y2="304.2" stroke="#c8c8c8" stroke-width="0.8" />
<line x1="475.2" y1="288.8" x2="475.2" y2="304.2" stroke="#b9b9b9" stroke-width="0.8" />
<line x1="479.6" y1="288.8" x2="479.6" y2="304.2" stroke="#c3c3c3" stroke-width="0.8" />
<line x1="490.7" y1="288.8" x2="490.7" y2="304.2" stroke="#464646" stroke-width="0.9" />
<line x1="491.8" y1="288.8" x2="491.8" y2="304.2" stroke="#5a5a5a" stroke-width="0.8" />
<line x1="494" y1="288.8" x2="494" y2="304.2" stroke="#828282" stroke-width="0.8" />
<line x1="497.3" y1="288.8" x2="497.3" y2="304.2" stroke="#969696" stroke-width="0.8" />
<line x1="501.8" y1="288.8" x2="501.8" y2="304.2" stroke="#aaaaaa" stroke-width="0.8" />
<line x1="504" y1="288.8" x2="504" y2="304.2" stroke="#b4b4b4" stroke-width="0.8" />
<defs><linearGradient id="g304" x1="0" x2="1" y1="0" y2="0"><stop offset="0" stop-color="#e4506a"/><stop offset="0.18" stop-color="#e86a80"/><stop offset="0.32" stop-color="#ee94a2"/><stop offset="0.4" stop-color="#f4bcc6"/><stop offset="0.44" stop-color="#f8e0e8"/><stop offset="0.52" stop-color="#faf2f8"/><stop offset="0.72" stop-color="#f2f0fa"/><stop offset="0.78" stop-color="#d8d4f6"/><stop offset="0.86" stop-color="#a09cea"/><stop offset="0.93" stop-color="#5a58d8"/><stop offset="0.96" stop-color="#3232c4"/><stop offset="0.97" stop-color="#10108c"/><stop offset="1" stop-color="#0a0a80"/></linearGradient></defs>
<rect x="406.7" y="304.6" width="99.5" height="4.2" fill="url(#g304)" />
<text x="452.5" y="319.1" font-size="4.6" text-anchor="middle" fill="#111" stroke="#111" stroke-width="0.12" >Enrichment plot:</text>
<text x="452.5" y="324.9" font-size="4.6" text-anchor="middle" fill="#111" stroke="#111" stroke-width="0.12" >BHATTACHARYA_EMBRYONIC_STEM_CELL</text>
<text transform="translate(397.6,348.7) rotate(-90)" font-size="2.9" text-anchor="middle" fill="#333" stroke="#333" stroke-width="0.12" >Enrichment score (ES)</text>
<text x="404.6" y="333" font-size="2.8" text-anchor="end" fill="#444" stroke="#444" stroke-width="0.12" >0.5</text>
<text x="404.6" y="340" font-size="2.8" text-anchor="end" fill="#444" stroke="#444" stroke-width="0.12" >0.4</text>
<text x="404.6" y="347" font-size="2.8" text-anchor="end" fill="#444" stroke="#444" stroke-width="0.12" >0.3</text>
<text x="404.6" y="354" font-size="2.8" text-anchor="end" fill="#444" stroke="#444" stroke-width="0.12" >0.2</text>
<text x="404.6" y="361" font-size="2.8" text-anchor="end" fill="#444" stroke="#444" stroke-width="0.12" >0.1</text>
<text x="404.6" y="368" font-size="2.8" text-anchor="end" fill="#444" stroke="#444" stroke-width="0.12" >0.0</text>
<path d="M406.3,367.5 L407.5,362 L408.5,357 L410,352.5 L411,345 L412.5,336.3 L415,333.8 L417.5,332.5 L419,331.5 L421.3,330 L423,330.8 L425,331.3 L427.5,332 L430,333.8 L432.5,332 L436.3,332.5 L440,335 L445,338.8 L455,343.8 L462,348.5 L470,353.5 L478,359.5 L485,364 L490,366.5 L495,368.8 L498.8,370.5 L501.3,366.3 L503,368 L505,368.8 L507,369.5 L508.8,367.5 L509.5,365" fill="none" stroke="#d0f4c8" stroke-width="2.4" stroke-linejoin="round"/>
<path d="M406.3,367.5 L407.5,362 L408.5,357 L410,352.5 L411,345 L412.5,336.3 L415,333.8 L417.5,332.5 L419,331.5 L421.3,330 L423,330.8 L425,331.3 L427.5,332 L430,333.8 L432.5,332 L436.3,332.5 L440,335 L445,338.8 L455,343.8 L462,348.5 L470,353.5 L478,359.5 L485,364 L490,366.5 L495,368.8 L498.8,370.5 L501.3,366.3 L503,368 L505,368.8 L507,369.5 L508.8,367.5 L509.5,365" fill="none" stroke="#44cc44" stroke-width="0.95" stroke-linejoin="round"/>
<line x1="407.7" y1="373.6" x2="407.7" y2="388" stroke="#3c3c3c" stroke-width="1" />
<line x1="410" y1="373.6" x2="410" y2="388" stroke="#464646" stroke-width="1" />
<line x1="412.2" y1="373.6" x2="412.2" y2="388" stroke="#3c3c3c" stroke-width="1" />
<line x1="414.4" y1="373.6" x2="414.4" y2="388" stroke="#505050" stroke-width="1" />
<line x1="417.7" y1="373.6" x2="417.7" y2="388" stroke="#828282" stroke-width="0.9" />
<line x1="419.9" y1="373.6" x2="419.9" y2="388" stroke="#8c8c8c" stroke-width="0.9" />
<line x1="424.3" y1="373.6" x2="424.3" y2="388" stroke="#6e6e6e" stroke-width="0.9" />
<line x1="426.5" y1="373.6" x2="426.5" y2="388" stroke="#828282" stroke-width="0.9" />
<line x1="429.9" y1="373.6" x2="429.9" y2="388" stroke="#787878" stroke-width="0.9" />
<line x1="432.1" y1="373.6" x2="432.1" y2="388" stroke="#646464" stroke-width="1" />
<line x1="440.9" y1="373.6" x2="440.9" y2="388" stroke="#b4b4b4" stroke-width="0.9" />
<line x1="443.1" y1="373.6" x2="443.1" y2="388" stroke="#aaaaaa" stroke-width="0.9" />
<line x1="447.6" y1="373.6" x2="447.6" y2="388" stroke="#969696" stroke-width="0.9" />
<line x1="450.9" y1="373.6" x2="450.9" y2="388" stroke="#a0a0a0" stroke-width="0.9" />
<line x1="453.1" y1="373.6" x2="453.1" y2="388" stroke="#8c8c8c" stroke-width="0.9" />
<line x1="456.4" y1="373.6" x2="456.4" y2="388" stroke="#969696" stroke-width="0.9" />
<line x1="459.7" y1="373.6" x2="459.7" y2="388" stroke="#6e6e6e" stroke-width="1" />
<line x1="461.9" y1="373.6" x2="461.9" y2="388" stroke="#5a5a5a" stroke-width="1" />
<line x1="464.2" y1="373.6" x2="464.2" y2="388" stroke="#646464" stroke-width="1" />
<line x1="466.4" y1="373.6" x2="466.4" y2="388" stroke="#464646" stroke-width="1" />
<line x1="470.8" y1="373.6" x2="470.8" y2="388" stroke="#8c8c8c" stroke-width="0.9" />
<line x1="473" y1="373.6" x2="473" y2="388" stroke="#969696" stroke-width="0.9" />
<line x1="479.6" y1="373.6" x2="479.6" y2="388" stroke="#bebebe" stroke-width="0.8" />
<line x1="487.4" y1="373.6" x2="487.4" y2="388" stroke="#aaaaaa" stroke-width="0.9" />
<line x1="489.6" y1="373.6" x2="489.6" y2="388" stroke="#a0a0a0" stroke-width="0.9" />
<line x1="495.1" y1="373.6" x2="495.1" y2="388" stroke="#969696" stroke-width="0.9" />
<line x1="498.5" y1="373.6" x2="498.5" y2="388" stroke="#a0a0a0" stroke-width="0.9" />
<line x1="502.9" y1="373.6" x2="502.9" y2="388" stroke="#aaaaaa" stroke-width="0.9" />
<line x1="506.2" y1="373.6" x2="506.2" y2="388" stroke="#b4b4b4" stroke-width="0.8" />
<line x1="508.4" y1="373.6" x2="508.4" y2="388" stroke="#aaaaaa" stroke-width="0.8" />
<defs><linearGradient id="g388" x1="0" x2="1" y1="0" y2="0"><stop offset="0" stop-color="#e4506a"/><stop offset="0.18" stop-color="#e86a80"/><stop offset="0.32" stop-color="#ee94a2"/><stop offset="0.4" stop-color="#f4bcc6"/><stop offset="0.44" stop-color="#f8e0e8"/><stop offset="0.52" stop-color="#faf2f8"/><stop offset="0.72" stop-color="#f2f0fa"/><stop offset="0.78" stop-color="#d8d4f6"/><stop offset="0.86" stop-color="#a09cea"/><stop offset="0.93" stop-color="#5a58d8"/><stop offset="0.96" stop-color="#3232c4"/><stop offset="0.97" stop-color="#10108c"/><stop offset="1" stop-color="#0a0a80"/></linearGradient></defs>
<rect x="406" y="388" width="103.5" height="3.6" fill="url(#g388)" />
<text x="404.1" y="400.2" font-size="7.5" text-anchor="start" fill="#d42838" stroke="#d42838" stroke-width="0.06" font-weight="bold" >shCtrl</text>
<text x="462.8" y="400.2" font-size="7.5" text-anchor="start" fill="#2b3a8c" stroke="#2b3a8c" stroke-width="0.06" font-weight="bold" >shlincRNA-3q</text>
<text x="8.4" y="435.6" font-size="11.2" text-anchor="start" fill="#000" stroke="#000" stroke-width="0.06" font-weight="bold" >E</text>
<text transform="translate(27.6,493.1) rotate(-90)" font-size="9" text-anchor="middle" fill="#000" stroke="#000" stroke-width="0.12" >CyclinE-luc activity</text>
<text transform="translate(38.6,491.2) rotate(-90)" font-size="8.7" text-anchor="middle" fill="#000" stroke="#000" stroke-width="0.12" >(fold increase)</text>
<line x1="61.4" y1="453.8" x2="61.4" y2="532.7" stroke="#111" stroke-width="1.2" />
<line x1="58.4" y1="532.1" x2="61.4" y2="532.1" stroke="#111" stroke-width="1" />
<text x="54.8" y="535.2" font-size="8.3" text-anchor="end" fill="#222" stroke="#222" stroke-width="0.12" >0.0</text>
<line x1="58.4" y1="517.05" x2="61.4" y2="517.05" stroke="#111" stroke-width="1" />
<text x="54.8" y="520.15" font-size="8.3" text-anchor="end" fill="#222" stroke="#222" stroke-width="0.12" >0.5</text>
<line x1="58.4" y1="502" x2="61.4" y2="502" stroke="#111" stroke-width="1" />
<text x="54.8" y="505.1" font-size="8.3" text-anchor="end" fill="#222" stroke="#222" stroke-width="0.12" >1.0</text>
<line x1="58.4" y1="486.95" x2="61.4" y2="486.95" stroke="#111" stroke-width="1" />
<text x="54.8" y="490.05" font-size="8.3" text-anchor="end" fill="#222" stroke="#222" stroke-width="0.12" >1.5</text>
<line x1="58.4" y1="471.9" x2="61.4" y2="471.9" stroke="#111" stroke-width="1" />
<text x="54.8" y="475" font-size="8.3" text-anchor="end" fill="#222" stroke="#222" stroke-width="0.12" >2.0</text>
<line x1="58.4" y1="456.85" x2="61.4" y2="456.85" stroke="#111" stroke-width="1" />
<text x="54.8" y="459.95" font-size="8.3" text-anchor="end" fill="#222" stroke="#222" stroke-width="0.12" >2.5</text>
<rect x="63.8" y="501.8" width="11.8" height="29.8" fill="#4a4a4a" />
<line x1="69.7" y1="501.8" x2="69.7" y2="499.6" stroke="#222" stroke-width="1.4" />
<line x1="67" y1="499.6" x2="72.4" y2="499.6" stroke="#222" stroke-width="1.4" />
<rect x="80.6" y="513" width="11.7" height="18.6" fill="#4a4a4a" />
<line x1="86.45" y1="513" x2="86.45" y2="510.8" stroke="#222" stroke-width="1.4" />
<line x1="83.75" y1="510.8" x2="89.15" y2="510.8" stroke="#222" stroke-width="1.4" />
<rect x="97.2" y="521" width="11.8" height="10.6" fill="#4a4a4a" />
<line x1="103.1" y1="521" x2="103.1" y2="518.6" stroke="#222" stroke-width="1.4" />
<line x1="100.4" y1="518.6" x2="105.8" y2="518.6" stroke="#222" stroke-width="1.4" />
<rect x="129.9" y="464.9" width="11.6" height="66.7" fill="#4a4a4a" />
<line x1="135.7" y1="464.9" x2="135.7" y2="461.5" stroke="#222" stroke-width="1.4" />
<line x1="133" y1="461.5" x2="138.4" y2="461.5" stroke="#222" stroke-width="1.4" />
<rect x="146.6" y="492.3" width="11.4" height="39.3" fill="#4a4a4a" />
<line x1="152.3" y1="492.3" x2="152.3" y2="487.2" stroke="#222" stroke-width="1.4" />
<line x1="149.6" y1="487.2" x2="155" y2="487.2" stroke="#222" stroke-width="1.4" />
<rect x="163.2" y="501" width="11.5" height="30.6" fill="#4a4a4a" />
<line x1="168.95" y1="501" x2="168.95" y2="496.5" stroke="#222" stroke-width="1.4" />
<line x1="166.25" y1="496.5" x2="171.65" y2="496.5" stroke="#222" stroke-width="1.4" />
<circle cx="86.6" cy="506" r="1.25" fill="#111" />
<circle cx="102.8" cy="514" r="1.25" fill="#111" />
<circle cx="150.8" cy="482.3" r="1.25" fill="#111" />
<circle cx="154.6" cy="482.3" r="1.25" fill="#111" />
<circle cx="167" cy="491.2" r="1.25" fill="#111" />
<circle cx="171.2" cy="491.2" r="1.25" fill="#111" />
<text x="86.8" y="448.2" font-size="7.6" text-anchor="middle" fill="#111" stroke="#111" stroke-width="0.12" >Endogenous</text>
<text x="86.8" y="456.5" font-size="7.6" text-anchor="middle" fill="#111" stroke="#111" stroke-width="0.12" >E2F1</text>
<text x="152.1" y="448.2" font-size="7.6" text-anchor="middle" fill="#111" stroke="#111" stroke-width="0.12" >Exogenous</text>
<text x="152.1" y="456.5" font-size="7.6" text-anchor="middle" fill="#111" stroke="#111" stroke-width="0.12" >E2F1</text>
<rect x="62.4" y="535.2" width="50.4" height="10.4" fill="#ececec" stroke="#111" stroke-width="1.2"/>
<rect x="64" y="539.2" width="14" height="2.2" rx="1.1" fill="#9c9c9c" filter="url(#blur)"/>
<rect x="81" y="539.4" width="13" height="1.8" rx="0.9" fill="#c4c4c4" filter="url(#blur)"/>
<rect x="97" y="539.4" width="13" height="1.8" rx="0.9" fill="#c0c0c0" filter="url(#blur)"/>
<rect x="62.4" y="546.6" width="50.4" height="9.7" fill="#f4f4f4" stroke="#111" stroke-width="1.2"/>
<rect x="63.8" y="549.35" width="14.3" height="3.7" rx="1.85" fill="#080808" filter="url(#blur)"/>
<rect x="80.6" y="549.35" width="13.2" height="3.7" rx="1.85" fill="#080808" filter="url(#blur)"/>
<rect x="96.9" y="549.45" width="13.1" height="3.5" rx="1.75" fill="#080808" filter="url(#blur)"/>
<rect x="126.4" y="535.2" width="51.2" height="10.4" fill="#e8e8e8" stroke="#111" stroke-width="1.2"/>
<rect x="129" y="539.4" width="14" height="2.4" rx="1.2" fill="#2a2a2a" filter="url(#blur)"/>
<rect x="145.5" y="539.7" width="13.5" height="2.2" rx="1.1" fill="#404040" filter="url(#blur)"/>
<rect x="161" y="539.7" width="14" height="2.2" rx="1.1" fill="#383838" filter="url(#blur)"/>
<rect x="126.4" y="546.6" width="51.2" height="9.7" fill="#f4f4f4" stroke="#111" stroke-width="1.2"/>
<rect x="128" y="549.45" width="15" height="3.5" rx="1.75" fill="#080808" filter="url(#blur)"/>
<rect x="144.5" y="549.45" width="15" height="3.5" rx="1.75" fill="#080808" filter="url(#blur)"/>
<rect x="161" y="549.45" width="15" height="3.5" rx="1.75" fill="#080808" filter="url(#blur)"/>
<text x="70.6" y="564.8" font-size="7.9" text-anchor="middle" fill="#111" stroke="#111" stroke-width="0.12" >siCtrl</text>
<text x="87.8" y="564.8" font-size="7.9" text-anchor="middle" fill="#111" stroke="#111" stroke-width="0.12" >si1</text>
<text x="102.8" y="564.8" font-size="7.9" text-anchor="middle" fill="#111" stroke="#111" stroke-width="0.12" >si2</text>
<text x="138.3" y="564.8" font-size="7.9" text-anchor="middle" fill="#111" stroke="#111" stroke-width="0.12" >siCtrl</text>
<text x="155.6" y="564.8" font-size="7.9" text-anchor="middle" fill="#111" stroke="#111" stroke-width="0.12" >si1</text>
<text x="170.3" y="564.8" font-size="7.9" text-anchor="middle" fill="#111" stroke="#111" stroke-width="0.12" >si2</text>
<line x1="82" y1="567.4" x2="110" y2="567.4" stroke="#222" stroke-width="1" />
<line x1="148.1" y1="567.4" x2="175.6" y2="567.4" stroke="#222" stroke-width="1" />
<text x="95.5" y="577" font-size="7.6" text-anchor="middle" fill="#111" stroke="#111" stroke-width="0.06" font-weight="bold" >lincRNA-3q</text>
<text x="160.6" y="577" font-size="7.6" text-anchor="middle" fill="#111" stroke="#111" stroke-width="0.06" font-weight="bold" >lincRNA-3q</text>
<text x="180.1" y="543.2" font-size="7.6" text-anchor="start" fill="#222" stroke="#222" stroke-width="0.12" >&#945;-E2F1</text>
<text x="180.1" y="553.3" font-size="7.6" text-anchor="start" fill="#222" stroke="#222" stroke-width="0.12" >a-TUBULIN</text>
<text x="235.8" y="435.8" font-size="11.2" text-anchor="start" fill="#000" stroke="#000" stroke-width="0.06" font-weight="bold" >F</text>
<rect x="245.4" y="468.8" width="241.7" height="17" fill="#e5e5e5" />
<rect x="245.4" y="502.7" width="241.7" height="16.9" fill="#e5e5e5" />
<line x1="316" y1="440.9" x2="487.1" y2="440.9" stroke="#cfcfcf" stroke-width="0.8" />
<line x1="316" y1="440.9" x2="316" y2="519.6" stroke="#cfcfcf" stroke-width="0.8" />
<line x1="371.5" y1="440.9" x2="371.5" y2="519.6" stroke="#cfcfcf" stroke-width="0.8" />
<line x1="435.5" y1="440.9" x2="435.5" y2="519.6" stroke="#cfcfcf" stroke-width="0.8" />
<line x1="487.1" y1="440.9" x2="487.1" y2="519.6" stroke="#cfcfcf" stroke-width="0.8" />
<line x1="245.4" y1="468.8" x2="245.4" y2="519.6" stroke="#cfcfcf" stroke-width="0.8" />
<line x1="245.4" y1="468.8" x2="487.1" y2="468.8" stroke="#cfcfcf" stroke-width="0.8" />
<line x1="245.4" y1="485.8" x2="487.1" y2="485.8" stroke="#cfcfcf" stroke-width="0.8" />
<line x1="245.4" y1="502.7" x2="487.1" y2="502.7" stroke="#cfcfcf" stroke-width="0.8" />
<line x1="245.4" y1="519.6" x2="487.1" y2="519.6" stroke="#cfcfcf" stroke-width="0.8" />
<text x="343.6" y="452.9" font-size="7.5" text-anchor="middle" fill="#111" stroke="#111" stroke-width="0.06" font-weight="bold" >Clone</text>
<text x="343.6" y="462.7" font-size="7.5" text-anchor="middle" fill="#111" stroke="#111" stroke-width="0.06" font-weight="bold" >Frequency</text>
<text x="403.5" y="452.9" font-size="7.5" text-anchor="middle" fill="#111" stroke="#111" stroke-width="0.06" font-weight="bold" >Confidence</text>
<text x="403.5" y="462.7" font-size="7.5" text-anchor="middle" fill="#111" stroke="#111" stroke-width="0.06" font-weight="bold" >Interval</text>
<text x="461.3" y="457.8" font-size="7.5" text-anchor="middle" fill="#111" stroke="#111" stroke-width="0.06" font-weight="bold" ><tspan font-style="italic">P</tspan> value</text>
<text x="253.1" y="480.4" font-size="7.5" text-anchor="start" fill="#111" stroke="#111" stroke-width="0.06" font-weight="bold" >NT</text>
<text x="343.8" y="480.4" font-size="7.5" text-anchor="middle" fill="#222" stroke="#222" stroke-width="0.12" >1/1.49</text>
<text x="404.1" y="480.4" font-size="7.5" text-anchor="middle" fill="#222" stroke="#222" stroke-width="0.12" >1/1.18 - 1/2.04</text>
<text x="253.1" y="497" font-size="7.5" text-anchor="start" fill="#111" stroke="#111" stroke-width="0.06" font-weight="bold" >shCtrl</text>
<text x="343.8" y="497" font-size="7.5" text-anchor="middle" fill="#222" stroke="#222" stroke-width="0.12" >1/2.41</text>
<text x="404.1" y="497" font-size="7.5" text-anchor="middle" fill="#222" stroke="#222" stroke-width="0.12" >1/1.95 - 1/3.10</text>
<text x="461.8" y="497" font-size="7.5" text-anchor="middle" fill="#222" stroke="#222" stroke-width="0.12" ><tspan font-style="italic">P</tspan> = .08 (ns)</text>
<text x="253.1" y="514" font-size="7.5" text-anchor="start" fill="#111" stroke="#111" stroke-width="0.06" font-weight="bold" >shlincRNA-3q</text>
<text x="343.8" y="514" font-size="7.5" text-anchor="middle" fill="#222" stroke="#222" stroke-width="0.12" >1/10.77</text>
<text x="404.1" y="514" font-size="7.5" text-anchor="middle" fill="#222" stroke="#222" stroke-width="0.12" >1/9.01 - 1/13.40</text>
<text x="461.8" y="514" font-size="7.5" text-anchor="middle" fill="#222" stroke="#222" stroke-width="0.12" ><tspan font-style="italic">P</tspan> &lt; .0001</text>
</svg></body></html>
